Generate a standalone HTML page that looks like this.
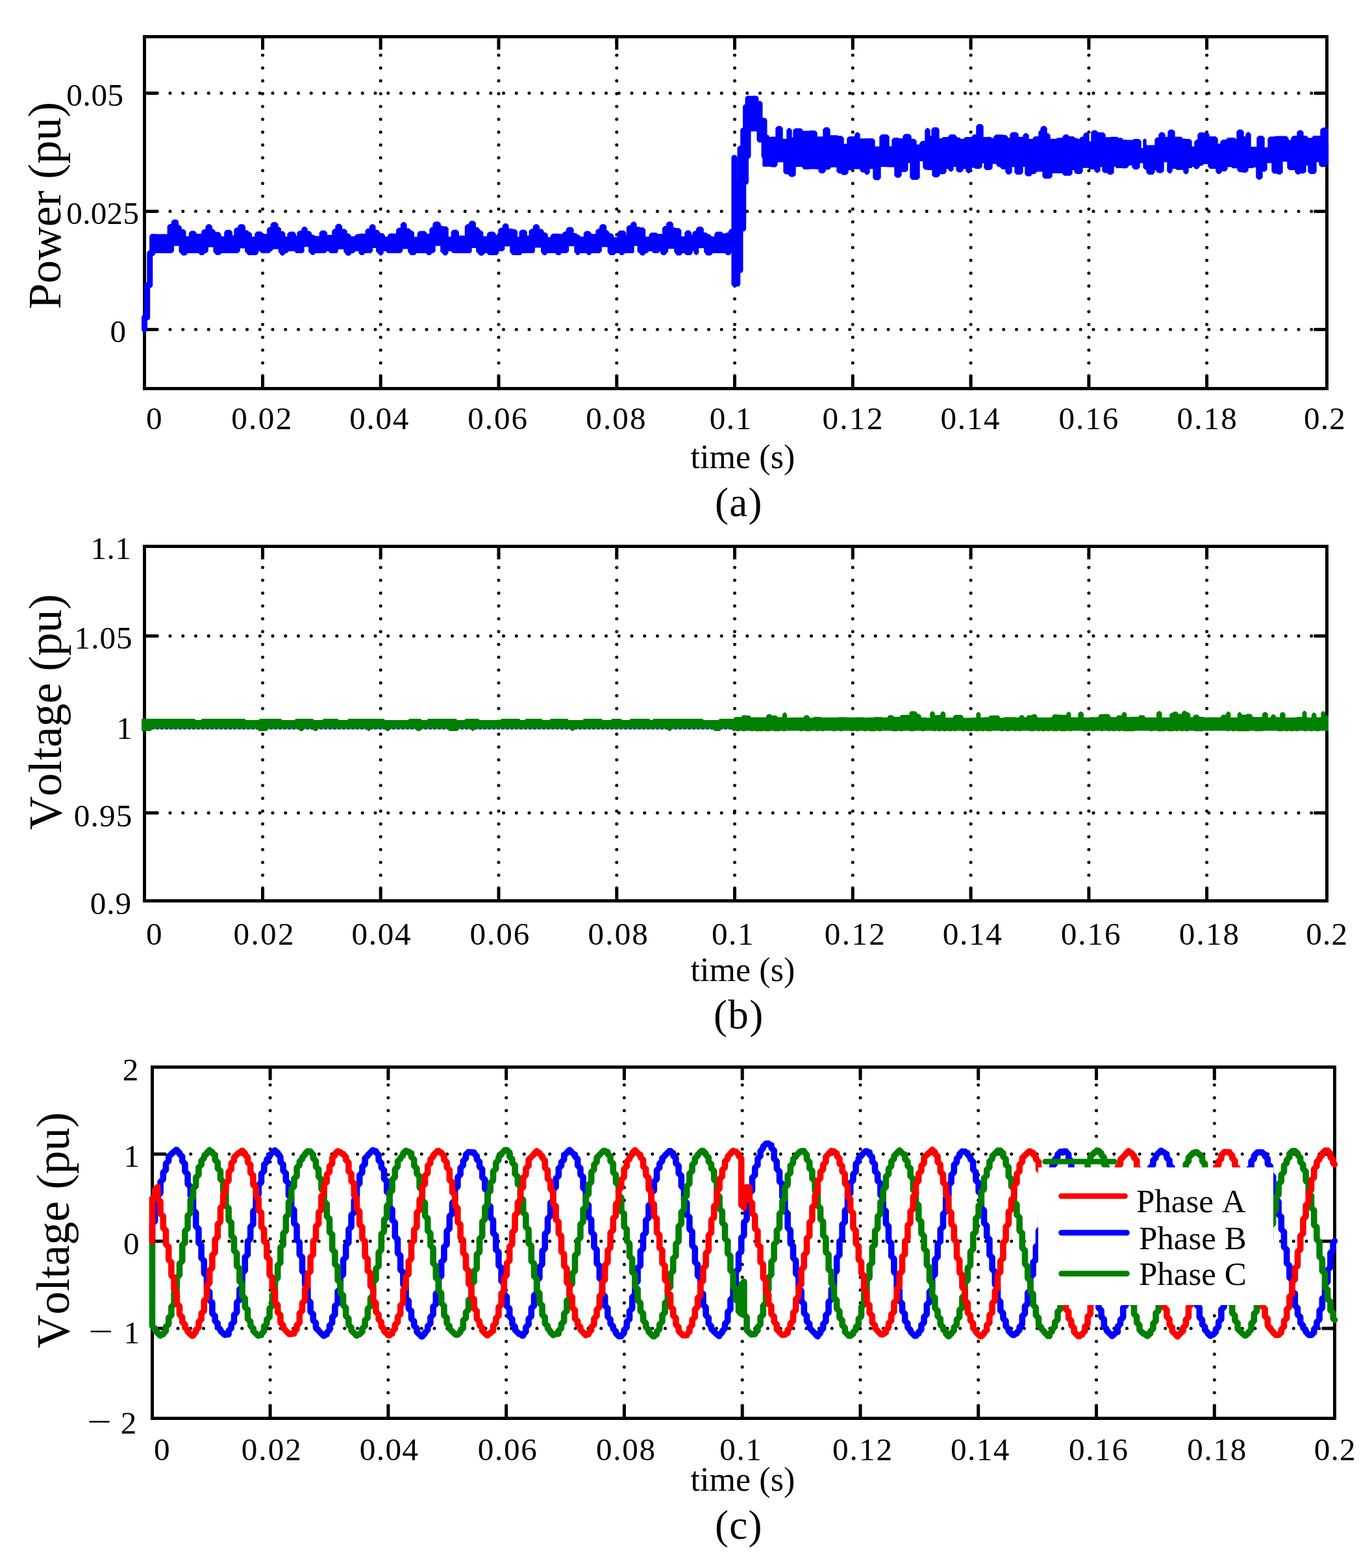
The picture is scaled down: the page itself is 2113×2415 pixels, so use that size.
<!DOCTYPE html>
<html><head><meta charset="utf-8"><title>Figure</title>
<style>
html,body{margin:0;padding:0;background:#fff}
svg{display:block}
text{font-family:"Liberation Serif", serif;fill:#000;font-kerning:none}
.grid{fill:none;stroke:#000;stroke-width:5;stroke-linecap:round;stroke-dasharray:0 19.75}
.tick{fill:none;stroke:#000;stroke-width:5}
.box{fill:none;stroke:#000;stroke-width:5}
.c{fill:none;stroke-width:9;stroke-linejoin:round;stroke-linecap:round}
.l{fill:none;stroke-width:8.6;stroke-linecap:round}
.s{fill:none;stroke-width:9.6;stroke-linejoin:round;stroke-linecap:round}
</style></head><body>
<svg width="2113" height="2415" viewBox="0 0 2113 2415">
<rect width="2113" height="2415" fill="#fff"/>
<g id="plot-a">
<path d="M404.5 598.5V56.5M586.2 598.5V56.5M768 598.5V56.5M949.8 598.5V56.5M1131.5 598.5V56.5M1313.3 598.5V56.5M1495.1 598.5V56.5M1676.9 598.5V56.5M1858.6 598.5V56.5" class="grid"/>
<path d="M222.5 143.5H2043.5M222.5 325.5H2043.5M222.5 507.5H2043.5" class="grid"/>
<path d="M404.5 598.5v-20M404.5 56.5v20M586.2 598.5v-20M586.2 56.5v20M768 598.5v-20M768 56.5v20M949.8 598.5v-20M949.8 56.5v20M1131.5 598.5v-20M1131.5 56.5v20M1313.3 598.5v-20M1313.3 56.5v20M1495.1 598.5v-20M1495.1 56.5v20M1676.9 598.5v-20M1676.9 56.5v20M1858.6 598.5v-20M1858.6 56.5v20M222.5 143.5h20M2043.5 143.5h-20M222.5 325.5h20M2043.5 325.5h-20M222.5 507.5h20M2043.5 507.5h-20" class="tick"/>
<rect x="222.5" y="56.5" width="1821" height="542" class="box"/>
<path d="M233 362.2H259.3V348.9L261.5 346.7H265.4V341.9L267.6 339.7H271.4L273.6 341.9V348.2H276L278.2 350.4V354.7H282.6L284.8 356.9V365.4H292.6V359.5L294.8 357.3H298.9L301 359.4V361.6H311.9V356.9L314.1 354.7H318.2V349.1L320.4 346.9H323.1L325.3 349.1V354.2H328L330.2 356.4V359H336.7L338.9 361.2V365.8H346.9V357.9L349.1 355.7H354.1L356.3 357.9V364.3H362V354.3L364.2 352.1H367.7V349.1L369.9 346.9H374.2L376.4 349.1V356.1H380.4L381.8 357.4V358.8H384.2L386.4 361V366.3H394V360.5L396.2 358.3H401.6L403.4 360.1V362H412.8V353.3L415 351.1H418.3V346L420.5 343.8H424.6L426.8 346V350.8H429.1L431.3 353V357.8H435.5L437.7 360V365.9H444.1V360.6L446.3 358.4H452L454.2 360.6V365H459V359.1L461.2 356.9H465.9V352.9L468.1 350.7H469.8L472 352.9V357.4H476.4L478.6 359.6V363.2H482.7L483.8 364.3V365.3H493.3V359L495.5 356.8H500.2L502.4 359V363.4H512.9V356.1L515.1 353.9H518V348.6L520.2 346.4H523.2L525.4 348.6V354.3H530.9L533.1 356.5V361.1H536.8L539 363.3V365.8H547.8V364L549.6 362.2H554V361.8L554.3 361.5H564.2V355.7L566.4 353.5H570.4V349.1L572.6 346.9H574.7L576.9 349.1V355.8H581.4L583.6 358V360.8H589L591.2 363V366.1H598.7V363.3L600.9 361.1H607.9L608.1 361.3V361.5H611.7V354.7L613.9 352.5H618.5V346L620.7 343.8H622.7L624.9 346V353.3H629.5L631.2 355V356.7H634.1L636.3 358.9V366.4H644.4V359.6L646.6 357.4H653.8L655.9 359.6V361.7H663V353.4L665.2 351.2H668.1V345.2L670.3 343H675L677.2 345.2V349.1H680.1L680.6 349.6V350.1H686.9L689.1 352.3V366.1H696.3V357.6L698.5 355.4H703L705.2 357.6V364.5H717.5V349.2L719.7 347H723.5V343.9L725.7 341.7H729L731.2 343.9V351.4H735.1L737.3 353.6V356.3H740.5L742.7 358.5V365.5H751.7V360.6L753.9 358.4H759.9L762.1 360.6V363.7H768.8V354.6L771 352.4H775.4V347.8L777.6 345.6H779.7L781.9 347.8V353.8H788.5L789 354.3V354.8H793.2L795.4 357V366.2H801.2V357.6L803.4 355.4H807.9L810.1 357.6V364.4H816.3V356.3L818.5 354.1H822.4V349.1L824.6 346.9H827.2L829.4 349.1V354.1H833.8L836 356.3V359.8H840L842.2 362V366.9H849.4V363.7L851.6 361.5H860.4L860.7 361.8V362H867.6V360.1L869.5 358.2H873.4V353.7L875.6 351.5H879.8L882 353.7V360.8H886.7L887.9 362V363.2H890.9L892.4 364.7V366.2H900.5V359.6L902.7 357.4H906.9L909.1 359.6V362H919V356.2L921.2 354H924.8V349.1L927 346.9H930.4L932.6 349.1V356.3H934.8L937 358.5V361H941.4L943.6 363.2V366.9H952.5V359L954.7 356.8H960.4L962.6 359V364.2H966.5V350.7L968.7 348.5H972.9V345.2L975.1 343H976.8L979 345.2V351H984.1L984.6 351.5V352H990.3L992.5 354.2V366.2H1001.1V362.2L1003.3 360H1010.4L1011.4 361V362H1021.6V352L1023.8 349.8H1027.5V345.2L1029.7 343H1033.1L1035.3 345.2V352H1038.6L1039.1 352.5V353H1045.5L1047.7 355.2V365.6H1056V358.6L1058.2 356.4H1061.1L1063.3 358.6V363.3H1067.9V359.5L1070.1 357.3H1073.7V352.9L1075.9 350.7H1080L1082.2 352.9V359.6H1086.8L1088 360.8V362.1H1092.1L1094 364V365.9H1102V360.7L1104.2 358.5H1110.6L1112 359.9V361.2H1118.5V360.6L1119.1 360H1123.5V356.4L1125.7 354.2H1132V380.2H1125V389.1L1122.8 391.3H1120.1L1118.6 389.8V388.3H1109.6H1103H1095.7V390L1093.9 391.8H1089.4L1087.6 390V388.3H1086.7L1085.7 387.3V380.5H1074.6V389.1L1072.4 391.3L1070.2 389.1V385.3H1065V389.1L1062.8 391.3H1057.5L1056 389.8V388.3H1049V390L1047.3 391.8H1043.5L1041.8 390V388.3H1040.8L1039.9 387.3V381.6H1027.5V387L1026.2 388.3H1024.9V389.8L1023.4 391.3H1020.8L1018.6 389.1V385.3H1014.3V386.8L1012.8 388.3H1007.2L1005.7 386.8V385.3H997.5V386.8L996 388.3H992.6V390L990.9 391.7H988.2L986.6 390V388.3H984.9L983.2 386.6V377H975V387.7L974.4 388.3H973.8H965.6H960.3V389.8L958.8 391.3H956.6L955.1 389.8V388.3H946.7V389.8L945.2 391.3H940.3L938.8 389.8V388.3H938.1L937.3 387.5V378.7H925.2V386.1L923 388.3H919.3H914H909.4V389.8L907.9 391.3H906.4L904.9 389.8V388.3H899.1H891.7V389.8L890.2 391.2H889.3L887.9 389.8V388.3H886.9L886 387.3V377.6H874.6V386.1L872.4 388.3H869.8H863V389.8L861.5 391.3H858.5L857 389.8V388.3H848.1H841.1V390L839.4 391.6H838L836.4 390V388.3H835.6L834.7 387.5V379.9H822.2V386.9L820.9 388.3H819.5H810.7H802.5V389.8L801 391.3H796L796 391.2V391.2H790.1L788.6 389.7V388.3H787.8L786.9 387.4V377.8H775.7V383.4L773.8 385.3H771.8H766.8V389.1L764.6 391.3H759.6H753.4L751.9 389.8V388.3H744.7V390.2L742.8 392.1H739.8L737.9 390.2V388.3H736.3L734.8 386.7V380.2H725V386.9L723.6 388.3H722.2H714.7H710.6H704.2H698.3L696.8 386.8V385.3H688.8V389.6L686.6 391.8H684.9L683.1 390V388.3H681.5L679.8 386.6V377.1H669V386.1L666.8 388.3H663.5V389.8L662 391.3H659.5L658 389.8V388.3H650.8H645.8H639.5V389.8L638 391.3H633.4L631.9 389.8V388.3H630.9L629.9 387.3V381.9H618.7V386.1L616.5 388.3H612H607H601.5H597.7L596.2 386.8V385.3H589.1V389.6L586.9 391.8H585.9L584.2 390.1V388.3H582.5L580.8 386.6V380.4H572.4V386.3L570.4 388.3H568.4H560.1V389.8L558.6 391.3H556.2L554 389.1V385.3H545.5V386.8L544 388.3H539.7V390.1L537.9 392H535L533.1 390.1V388.3H532L530.9 387.2V382.2H519.2V386.9L517.9 388.3H516.5H509.1L507.6 386.8V385.3H501.8V386.8L500.3 388.3H494.9H490H483.8V389.7L482.5 391H480.8L479.4 389.7V388.3H478.1L476.7 387V378.5H467V386.7L465.4 388.3H463.8H456.8L455.3 386.8V385.3H450.4H442.7V386.8L441.2 388.3H437.4V390.2L435.5 392.1H434.4L432.5 390.2V388.3H431.5L430.4 387.3V382H419.1V383.6L417.5 385.3H415.4V386.8L413.9 388.3H407.1H403.6L402.1 386.8V385.3H396.5V389.1L394.3 391.3H387.7H383.1L381.6 389.8V388.3H380.2L378.8 386.9V380.7H368.1V386.1L365.9 388.3H361.1H356.7H347.8H339.3V389.7L337.9 391H333.7L332.4 389.7V388.3H331.2L330.1 387.2V379.1H319.2V386.1L317 388.3H313.9V389.8L312.4 391.3H309.2L307.7 389.8V388.3H303.5H298.6H291.9H287.2V390L285.4 391.8H281.5L279.8 390V388.3H278.5L277.2 387V377.1H266.3V386.1L264.1 388.3H233Z" fill="#0000ff" stroke="#0000ff" stroke-width="3.4" stroke-linejoin="round"/>
<path d="M1176 212.8H1188V212.4L1188.3 212.1H1196V197.9L1198.2 195.7H1201.8L1204 197.9V215.4H1213V200.9L1215.2 198.7H1215.8L1218 200.9V213.1H1223V201.3L1225.2 199.1H1233L1235 201.1V203.1H1247V202.9L1247.2 202.6H1254.8L1257 204.8V212H1269V200L1271.2 197.8H1274.8L1277 200V210H1289.5L1290 210.5V211H1295.8L1298 213.2V223.2H1306V213.8L1308.2 211.6H1318V207.3L1320.2 205.1H1320.8L1323 207.3V214.9H1333V214.8L1333.1 214.7H1343.8L1346 216.9V227.2H1356V210.9L1358.2 208.7H1365.8L1368 210.9V227H1375V215.9L1377.2 213.7H1382.6L1383 214.1V214.6H1392V210.1L1394.2 207.9H1399.8L1402 210.1V215.5H1407.8L1410 217.7V224.2H1418V220.9L1420.2 218.7H1426V201L1428.2 198.8H1428.8L1431 201V210.9H1436V199.9L1438.2 197.7H1442.8L1445 199.9V214.6H1452V213.6L1453 212.7H1462V210.7L1464 208.7H1469.8L1472 210.9V213.3H1476.9L1478 214.4V215.4H1486V214.1L1487.3 212.8H1498V210.8L1500 208.8H1505V194.9L1507.2 192.7H1510.8L1513 194.9V212.8H1520V212.6L1520.2 212.5H1525.1L1526 213.3V214.2H1532V211.1L1534.2 208.9H1544.6L1545 209.3V209.7H1549L1551 211.7V213.7H1557V207.3L1559.2 205.1H1564.8L1567 207.3V212.5H1577V209L1579.2 206.8H1580.8L1583 209V215.8H1592V213.8L1594 211.7H1601V203.7L1602.5 202.2H1604V197.9L1606.2 195.7H1608.8L1611 197.9V206.6H1613.8L1616 208.8V215.4H1628V214.7L1628.7 214H1638V211L1640.2 208.8H1643.5L1645 210.3V211.7H1652.8L1654 213V214.2H1658.2L1659 215V215.8H1664V214.1L1665.7 212.3H1670V208L1672.2 205.8H1673.8L1676 208V219.2H1682V204.3L1684.2 202.1H1687.3L1689 203.8V205.5H1698.8L1701 207.7V213H1711V212.7L1711.2 212.5H1720.3L1721 213.2V214H1726.7L1728 215.3V216.6H1733.8L1734 216.9V217.1H1746V216.5L1746.6 215.8H1753.8L1756 218V229.7H1762V216.2L1763 215.2L1764 216.2V225.2H1780V215.3L1782.2 213.1H1786V207.4L1788.2 205.2H1790.8L1793 207.4V212.4H1800V203.4L1802.2 201.2H1805.8L1808 203.4V212.2H1818.5L1820 213.8V215.3H1824.8L1825 215.5V215.6H1831.8L1834 217.8V227.2H1841V218.8L1843.2 216.6H1846V207.6L1848.2 205.4H1850.9L1851 205.5V205.6H1858.8L1861 207.8V211.8H1871.8L1874 214V223H1881V219L1883.2 216.8H1890V215.2L1891.6 213.6H1900.8L1903 215.8V222.3H1906V203.4L1908.2 201.2H1911.8L1914 203.4V211.7H1920V207.2L1922.2 205H1922.8L1925 207.2V227.7H1937V212.8L1939.2 210.6H1943.8L1946 212.8V228.7H1954V214.1L1956.2 211.9H1964V211.6L1964.3 211.3H1976V211.2H1980.8L1983 213.4V217.2H1990V212.8L1992.2 210.6H1999V204.3L2001.2 202.1H2003.8L2006 204.3V210.8H2011.4L2013 212.3V213.9H2022V212.3L2023.6 210.8H2035V200.5L2037.2 198.3H2041.8L2044 200.5V219.3H2044.5V252H2041V253.8L2039.2 255.6H2035.2L2033 253.4V248H2026V264L2023.8 266.2H2018.2L2016 264V253.6H2010V263.4L2007.8 265.6H2001V266.3L2000.3 267.1H1998.2L1996 264.9V260.2H1986.2L1984 258V247.4H1974V264.8L1971.8 267H1968.6L1968 266.4V265.8H1962.2L1960 263.6V249.6H1950V260.5L1947.8 262.7H1943V272.9L1940.8 275.1H1938.2L1936 272.9V256.2H1929V256.7L1928.5 257.2H1921V262.2L1918.8 264.4H1914.4L1914 264V263.6H1909.2L1907 261.4V257.5H1899L1898 256.5V255.5H1889V260L1886.8 262.2H1880V264.3L1878 266.3H1876.2L1874 264.1V258.2H1864.2L1862 256V251.1H1852V252.5L1850.7 253.8H1846V256.5L1843.8 258.7H1841.7L1840 257.1V255.4H1835V256.3L1834.1 257.2H1829V264.7L1826.8 266.9H1826.2L1824 264.7V260.1H1812.9L1812 259.2V258.4H1804V263.3L1801.8 265.5H1801.2L1799 263.3V248.4H1791V262.7L1788.8 264.9H1784.2L1782 262.7V260.2H1777V265.1L1774.8 267.3H1769.2L1767 265.1V259.8H1764.2L1762 257.6V249.5H1754V257.1L1751.8 259.3H1747.2L1745 257.1V253.1H1737V255.4L1734.8 257.6H1729.2L1729 257.4V257.2H1720.1L1719 256.1V255H1714V265.2L1711.8 267.4H1708.2L1707 266.2V264.9H1701.2L1699 262.7V255.5H1693V262.4L1690.8 264.6H1689.2L1687 262.4V259.4H1679.1L1678 258.2V257.1H1666V264.1L1663.8 266.3H1658.2L1656 264.1V260.4H1650V266.8L1647.8 269H1639.8L1638 267.2V265.4H1626.1L1626 265.3V265.2H1619V271.4L1616.8 273.6H1609.2L1607 271.4V262.7H1595V264.5L1593.2 266.3H1588V268L1586.2 269.8H1582.2L1580 267.6V255.2H1574V265L1571.8 267.2H1566.2L1564 265V255.5H1557V264.8L1554.8 267H1552.2L1550 264.8V259H1543.7L1542 257.3V255.6H1538.2L1536 253.4V250.8H1527V258.2L1524.8 260.4H1519.2L1517 258.2V249.9H1511V256L1508.8 258.2H1502.7L1502 257.6V256.9H1495V262.8L1492.8 265H1491.2L1489 262.8V258.5H1482V261.6L1479.8 263.8H1476.2L1474 261.6V255.4H1467V260.7L1464.8 262.9H1464.2L1462 260.7V258.5H1456V264.3L1453.8 266.5H1446V269.4L1443.8 271.6H1439.2L1437 269.4V260.3H1429.3L1429 260V259.7H1425.2L1423 257.5V246.9H1415V273L1412.8 275.2H1405.2L1403 273V249.3H1397V261L1394.8 263.2H1387V269.8L1384.8 272H1381.2L1379 269.8V255.9H1369.1L1369 255.7V255.6H1363.1L1363 255.5V255.4H1355V273.6L1352.8 275.8H1348.2L1346 273.6V258.6H1338V265.3L1335.8 267.5H1334.7L1333 265.8V264.1H1328.2L1326 261.9V258.8H1314V259.7L1313.1 260.5H1305V265.6L1302.8 267.8H1298.1L1297 266.7V265.6H1292.2L1290 263.4V256H1278V258L1276.1 259.9H1270V263L1267.8 265.2H1264.2L1262 263V259.1H1257.2L1257 258.9V258.7H1245V259L1244.7 259.3H1238.9L1237 257.4V255.4H1232.1L1232 255.3V255.2H1224V268.7L1221.8 270.9H1218.1L1216 268.9V266.8H1210.2L1208 264.6V248.3H1196V253.5L1193.8 255.7H1188.4L1188 255.4V255H1176Z" fill="#0000ff" stroke="#0000ff" stroke-width="3.4" stroke-linejoin="round"/>
<path d="M222.5 507.5L222.5 489L226.7 489L226.7 439L230.8 439L230.8 390L234.6 390L234.6 365L238 365L238 385" class="c" stroke="#0000ff"/>
<path d="M1128 385L1130.9 385L1130.9 243L1130.9 437L1135.8 437L1135.8 283L1135.8 416L1140 416L1140 229L1140 352L1144.7 352L1144.7 201L1144.7 280L1148.5 280L1148.5 165L1148.5 240L1152 240L1152 152L1156 152L1156 198L1160 198L1160 152L1164 152L1164 198L1167 198L1167 160L1170 160L1170 215L1174 215L1174 186L1177 186L1177 240L1181 240L1181 212" class="c" stroke="#0000ff"/>
<text x="102.33" y="162.60" font-size="49.2" letter-spacing="0.60">0.05</text>
<text x="102.33" y="344.60" font-size="49.2" letter-spacing="0.27">0.025</text>
<text x="169.43" y="526.80" font-size="49.2">0</text>
<text x="225.03" y="661.30" font-size="49.2">0</text>
<text x="356.13" y="661.30" font-size="49.2" letter-spacing="2.36">0.02</text>
<text x="538.18" y="661.30" font-size="49.2" letter-spacing="1.71">0.04</text>
<text x="720.23" y="661.30" font-size="49.2" letter-spacing="1.95">0.06</text>
<text x="902.28" y="661.30" font-size="49.2" letter-spacing="2.08">0.08</text>
<text x="1092.63" y="661.30" font-size="49.2" letter-spacing="1.60">0.1</text>
<text x="1266.38" y="661.30" font-size="49.2" letter-spacing="2.36">0.12</text>
<text x="1448.43" y="661.30" font-size="49.2" letter-spacing="1.71">0.14</text>
<text x="1630.48" y="661.30" font-size="49.2" letter-spacing="1.95">0.16</text>
<text x="1812.53" y="661.30" font-size="49.2" letter-spacing="2.08">0.18</text>
<text x="2008.03" y="661.30" font-size="49.2" letter-spacing="1.19">0.2</text>
<text x="1063.49" y="721.40" font-size="52" letter-spacing="0.07">time (s)</text>
<text x="1101.03" y="795.00" font-size="63" letter-spacing="1.31">(a)</text>
<text transform="translate(93.40 476.26) rotate(-90)" font-size="71.5" letter-spacing="-0.05">Power (pu)</text>
</g>
<g id="plot-b">
<path d="M404.5 1387.5V841.5M586.2 1387.5V841.5M768 1387.5V841.5M949.8 1387.5V841.5M1131.5 1387.5V841.5M1313.3 1387.5V841.5M1495.1 1387.5V841.5M1676.9 1387.5V841.5M1858.6 1387.5V841.5" class="grid"/>
<path d="M222.5 979.5H2043.5M222.5 1116H2043.5M222.5 1252H2043.5" class="grid"/>
<path d="M404.5 1387.5v-20M404.5 841.5v20M586.2 1387.5v-20M586.2 841.5v20M768 1387.5v-20M768 841.5v20M949.8 1387.5v-20M949.8 841.5v20M1131.5 1387.5v-20M1131.5 841.5v20M1313.3 1387.5v-20M1313.3 841.5v20M1495.1 1387.5v-20M1495.1 841.5v20M1676.9 1387.5v-20M1676.9 841.5v20M1858.6 1387.5v-20M1858.6 841.5v20M222.5 979.5h20M2043.5 979.5h-20M222.5 1116h20M2043.5 1116h-20M222.5 1252h20M2043.5 1252h-20" class="tick"/>
<rect x="222.5" y="841.5" width="1821" height="546" class="box"/>
<path d="M226 1122.6H1131" stroke="#0000ff" stroke-width="1.6" stroke-dasharray="5 2" fill="none"/>
<path d="M219 1108H243.3H272.1H299.3L300.3 1109V1110H310.5V1109L311.5 1108H332.7H343.2H356.7H376.3L377.3 1109V1110H384.7H399.7V1109L400.7 1108H411.3H422.3H432.1L433.1 1109V1110H447.7H455.1V1109L456.1 1108H481.2L482.2 1109V1110H497.8V1109L498.8 1108H519.7L520.7 1109V1110H536.1V1109L537.1 1108H565.4H579.9H590.6L591.6 1109V1110H597.3H608.9H621.4H629.8V1109L630.8 1108H647.4L648.4 1109V1110H658.7V1109L659.7 1108H667.9H676.4H702L703 1109V1110H716.7V1109L717.7 1108H736.4L737.4 1109V1110H742.9H758.4H771.7V1109L772.7 1108H799.5L800.5 1109V1110H809.4V1109L810.4 1108H833.4L834.4 1109V1110H847.7V1109L848.7 1108H873.6L874.6 1109V1110H890H898.7V1109L899.7 1108H925.9L926.9 1109V1110H942.1V1109L943.1 1108H956L957 1109V1110H963.9H970.6V1109L971.6 1108H999.5L1000.5 1109V1110H1006V1109L1007 1108H1025.8H1039H1065.2H1081.4L1082.4 1109V1110H1097.5H1107.9V1109L1108.9 1108H1118.8H1131V1106.6L1132.4 1105.2H1143.1V1103.9L1144.4 1102.6H1148.5L1148.7 1102.8V1103H1154.2L1155.5 1104.3V1105.7H1169.3H1180.9V1103.1L1183.1 1100.9H1186.4L1187.5 1101.9V1102.9H1195.1L1196.4 1104.2V1105.5H1205.9V1100.4L1208.1 1098.2H1208.9L1211.1 1100.4V1106.2H1219.3V1106.1L1219.4 1106H1230.6V1106.1H1238.9V1104.2L1240.7 1102.4H1243.8L1245.8 1104.4V1106.4H1253.5V1105.7L1254.2 1105H1263.2L1263.7 1105.5V1106H1270.9H1283.3H1291.4V1105.7L1291.6 1105.5H1303.6L1303.9 1105.8V1106H1316.7V1105.9L1316.8 1105.8H1330.1L1330.3 1106V1106.3H1336.8V1106.1L1336.9 1106H1346.1V1105.6L1346.5 1105.3H1357.3L1357.7 1105.6V1106H1367.9V1104.2L1369.7 1102.4H1374.1L1375.4 1103.7V1105H1386.9V1103.6L1388.3 1102.1H1393.6H1401.4V1098.5L1403.6 1096.3H1406.9L1407.1 1096.5V1096.6H1409.9L1411.9 1098.6V1100.6H1415.5L1417.7 1102.8V1105.9H1425.9L1426.1 1106.1V1106.4H1433.2V1098.7L1435.4 1096.5H1436.6L1438.8 1098.7V1102.6H1444.2V1102.3L1444.5 1102H1449.4V1098.9L1451.6 1096.7H1453L1455.2 1098.9V1106.2H1468.8V1104.2L1470.9 1102.1H1477.1V1102L1477.2 1102H1480.5L1482.7 1104.2V1106.5H1496.3V1106.4L1496.3 1106.3H1504.4V1099.7L1506.6 1097.5H1507L1509.2 1099.7V1105.9H1515.5V1105.8L1515.6 1105.6H1523.9V1104.3L1525.2 1102.9H1530V1102.9L1530.1 1102.8H1537L1538.9 1104.6V1106.5H1546.2V1106L1546.7 1105.5H1554.9H1564.1L1564.4 1105.7V1105.9H1570.5V1104.2L1572.2 1102.5H1575L1576.6 1104.1V1105.8H1581.8V1104.1L1583.4 1102.5H1590.5V1101.7L1591.3 1100.9H1594.4L1596.6 1103.1V1105.9H1604.2H1614.9L1615 1106V1106.1H1621.1V1103.5L1623.3 1101.3H1628.1L1628.2 1101.5V1101.7H1635.2L1635.3 1101.8V1102H1643.3V1099.3L1645.5 1097.1H1646.2L1648.4 1099.3V1105.8H1661.4V1099.2L1663.6 1097H1665.7L1667.9 1099.2V1105.9H1679.3V1105.8L1679.4 1105.6H1692.5V1103.2L1694.7 1101H1700.9V1100.8L1701 1100.7H1707L1709.2 1102.9V1105.6H1720.4V1104.2L1721.9 1102.8H1728.6V1099.6L1730.8 1097.4H1732.1L1734.3 1099.6V1105.2H1742.2V1105.2L1742.3 1105.1H1754.5V1103.8L1755.9 1102.5H1761L1762.8 1104.3V1106.1H1768H1782V1098.5L1784.2 1096.3H1786.4L1788.6 1098.5V1106.1H1802.2V1100.9L1804.4 1098.7H1807.4V1097.8L1808.3 1096.9H1811.6L1813.5 1098.8V1100.6H1821V1098L1823.2 1095.8H1825.2L1826.4 1096.9V1098.1H1830.1L1832.3 1100.3V1105.6H1838.6V1103.7L1840.5 1101.7H1844.3L1846 1103.4V1105.1H1853.9L1854.3 1105.5V1105.9H1860.7V1105.9L1860.7 1105.8H1873.9H1881.2V1103.8L1883.3 1101.8H1889.2V1099L1891.4 1096.8H1892.1L1894.3 1099V1106.1H1900.9V1106H1906.7V1099.8L1908.9 1097.6H1909.5L1911.5 1099.6V1101.7H1920V1101.1L1920.6 1100.6H1926L1928.2 1102.8V1105.2H1933.6L1933.7 1105.3V1105.3H1944.8V1100L1947 1097.8H1949.6L1951.8 1100V1105.9H1958V1103.5L1960.2 1101.3H1961.8L1964 1103.5V1105.6H1972.1V1100L1974.3 1097.8H1976.5L1978.7 1100V1106.3H1987.6V1106.1L1987.8 1105.9H1997.9V1105.5L1998.3 1105.1H2006.5V1097.8L2008.7 1095.6H2009.3L2011.5 1097.8V1106.1H2020.8V1100.8L2023 1098.6H2024.3L2026.5 1100.8V1105.7H2035.3V1098.3L2037.5 1096.1H2038L2040.2 1098.3V1102.7H2045V1125.3H2044.8L2044.6 1125.1V1124.6H2040.2H2036.1H2031.9V1124.9L2031.5 1125.3H2028.6H2025.9L2025.6 1124.9V1124.6H2021.2V1124.9L2020.9 1125.3H2017.7L2017.3 1124.9V1124.6H2013.2V1124.9L2012.9 1125.3H2008.8L2008.4 1124.9V1124.6H2004.2H1999.4V1124.9L1999 1125.3H1995.3L1995 1124.9V1124.6H1991.6V1124.9L1991.3 1125.3H1987.7L1987.4 1124.9V1124.6H1983.9V1124.9L1983.5 1125.3H1979.8L1979.4 1124.9V1124.6H1975.4V1124.9L1975.1 1125.3H1971.9H1968.5L1968.2 1124.9V1124.6H1964.9H1961.8H1957.7H1953.7H1949.8H1945.1V1124.9L1944.8 1125.3H1940.5H1937.3H1933.2L1932.8 1124.9V1124.6H1928.5H1923.8V1124.9L1923.5 1125.3H1918.9H1914.4H1910.3H1905.8L1905.4 1124.9V1124.6H1901.5V1124.9L1901.2 1125.3H1897.8L1897.4 1124.9V1124.6H1892.7V1124.9L1892.3 1125.3H1889.9L1889.6 1124.9V1124.6H1885H1880.4H1876.6H1873.5H1870.1H1865.6H1862.1H1857.1H1852.2V1124.9L1851.9 1125.3H1848.1H1844.5H1840.6L1840.2 1124.9V1124.6H1836.7H1833.4H1829.7V1124.9L1829.3 1125.3H1825.5L1825.2 1124.9V1124.6H1822V1124.9L1821.7 1125.3H1819.3L1819 1124.9V1124.6H1814.1V1124.9L1813.7 1125.3H1811.3L1810.9 1124.9V1124.6H1807.7V1124.9L1807.3 1125.3H1802.8H1798.8L1798.5 1124.9V1124.6H1793.7V1124.9L1793.3 1125.3H1790.6H1787.5H1783.3L1782.9 1124.9V1124.6H1778.6H1774.9V1124.9L1774.5 1125.3H1771.7L1771.3 1124.9V1124.6H1767.5H1762.5H1758.7H1755.1H1750.3H1747.3V1124.9L1746.9 1125.3H1742.4H1737.8H1733.3H1730.2L1729.9 1124.9V1124.6H1725.1V1124.9L1724.8 1125.3H1722.2L1721.8 1124.9V1124.6H1717.8V1124.9L1717.4 1125.3H1713.2L1712.9 1124.9V1124.6H1709.9V1124.9L1709.5 1125.3H1706.8L1706.5 1124.9V1124.6H1703.4H1698.5V1124.9L1698.1 1125.3H1695.8L1695.4 1124.9V1124.6H1691.7H1688.7H1685.4V1124.9L1685.1 1125.3H1682.6L1682.2 1124.9V1124.6H1677.5V1124.9L1677.2 1125.3H1672.6H1668.8L1668.4 1124.9V1124.6H1665.2H1661.6H1658.2H1654.1H1650.3V1124.9L1650 1125.3H1646.5L1646.2 1124.9V1124.6H1641.9V1124.9L1641.5 1125.3H1638.6H1634.1L1633.8 1124.9V1124.6H1628.8V1124.9L1628.4 1125.3H1625.7H1622.1L1621.8 1124.9V1124.6H1616.9V1124.9L1616.5 1125.3H1613.2L1612.9 1124.9V1124.6H1609.6V1124.9L1609.3 1125.3H1605L1604.6 1124.9V1124.6H1600.9V1124.9L1600.5 1125.3H1597.8L1597.4 1124.9V1124.6H1592.6V1124.9L1592.3 1125.3H1588.9H1585.8L1585.5 1124.9V1124.6H1581.8H1577.3H1572.9V1124.9L1572.5 1125.3H1569.1L1568.7 1124.9V1124.6H1565.4V1124.9L1565 1125.3H1562.5L1562.2 1124.9V1124.6H1558.8H1554.1V1124.9L1553.8 1125.3H1549.7L1549.3 1124.9V1124.6H1545V1124.9L1544.7 1125.3H1541.7L1541.4 1124.9V1124.6H1536.7H1531.8H1527.4V1124.9L1527 1125.3H1523.2H1519.7L1519.3 1124.9V1124.6H1515.2V1124.9L1514.8 1125.3H1512.2L1511.9 1124.9V1124.6H1508.5V1124.9L1508.2 1125.3H1505.3H1502.1L1501.7 1124.9V1124.6H1497.8V1124.9L1497.4 1125.3H1493.9H1490L1489.6 1124.9V1124.6H1485.1V1124.9L1484.7 1125.3H1482.3L1481.9 1124.9V1124.6H1477.1H1472.5V1124.9L1472.2 1125.3H1469.5L1469.1 1124.9V1124.6H1465.6V1124.9L1465.3 1125.3H1461.3L1460.9 1124.9V1124.6H1457.2V1124.9L1456.8 1125.3H1452.7L1452.3 1124.9V1124.6H1449V1124.9L1448.6 1125.3H1445L1444.6 1124.9V1124.6H1440.9V1124.9L1440.5 1125.3H1437.5L1437.2 1124.9V1124.6H1432.4H1428.4H1423.6V1124.9L1423.3 1125.3H1419.6L1419.3 1124.9V1124.6H1416.1H1412.6H1409V1124.9L1408.6 1125.3H1404.8H1402L1401.7 1124.9V1124.6H1398.1H1393.8H1390V1124.9L1389.7 1125.3H1386.3L1386 1124.9V1124.6H1382.1V1124.9L1381.7 1125.3H1378.1H1374.2L1373.8 1124.9V1124.6H1370.2H1365.6H1361.6H1357.2V1124.9L1356.8 1125.3H1352.9L1352.6 1124.9V1124.6H1347.9V1124.9L1347.5 1125.3H1343.9H1339.7L1339.3 1124.9V1124.6H1334.5V1124.9L1334.2 1125.3H1330.4L1330 1124.9V1124.6H1326.7H1322.9V1124.9L1322.6 1125.3H1318.6L1318.2 1124.9V1124.6H1314.5V1124.9L1314.2 1125.3H1310.7L1310.3 1124.9V1124.6H1305.7H1301.9H1297.4V1124.9L1297.1 1125.3H1294.2L1293.8 1124.9V1124.6H1290.4H1286.6V1124.9L1286.3 1125.3H1283L1282.7 1124.9V1124.6H1277.8H1272.9H1268.5V1124.9L1268.2 1125.3H1265.6L1265.3 1124.9V1124.6H1261.1V1124.9L1260.7 1125.3H1257.4L1257 1124.9V1124.6H1253.1H1248.9V1124.9L1248.6 1125.3H1244.1H1240.8L1240.4 1124.9V1124.6H1235.8V1124.9L1235.5 1125.3H1232.3L1231.9 1124.9V1124.6H1227.7H1224.1H1219.7H1216.4H1212.7H1209.5V1124.9L1209.1 1125.3H1206.3L1206 1124.9V1124.6H1201.1V1124.9L1200.7 1125.3H1197.2H1192.6L1192.3 1124.9V1124.6H1189.2H1186.2V1124.9L1185.8 1125.3H1181.8H1178.9L1178.5 1124.9V1124.6H1175.4V1124.9L1175.1 1125.3H1171.3H1167.7H1163.6L1163.3 1124.9V1124.6H1160V1124.9L1159.7 1125.3H1156.2L1155.9 1124.9V1124.6H1151.1H1147.3V1124.9L1147 1125.3H1143.8L1143.5 1124.9V1124.6H1138.7V1124.9L1138.3 1125.3H1134.4L1134.1 1124.9V1124.6H1131V1124.8L1130.8 1125H1129.6L1128.2 1123.6V1121.6H1109.6V1123.3L1107.9 1125H1104.4H1101.3L1099.6 1123.3V1121.6H1085.1H1046.4H1033.3V1123.3L1031.6 1125H1030.7L1029 1123.3V1121.6H990.1H969.3H933.9H910.7H883.7V1123.3L882 1125H881.3L879.6 1123.3V1121.6H839.6H797.4H783.6H770.7H746.6H730.3V1123.3L728.6 1125H727.9L726.2 1123.3V1121.6H705.5V1123.3L703.8 1125H700.7H695.5H692.5L690.8 1123.3V1121.6H648V1123.3L646.3 1125H643L641.3 1123.3V1121.6H628.1H599.9V1123.3L598.2 1125H596L594.3 1123.3V1121.6H569.9V1123.3L568.2 1125H567.4L565.7 1123.3V1121.6H521.6H489V1123.3L487.3 1125H484.7L483 1123.3V1121.6H467.2V1123.3L465.5 1125H462.7L461 1123.3V1121.6H434.7H411.9V1123.3L410.2 1125H406.7H402H399.1L397.4 1123.3V1121.6H361.9H341.7H327.6H301.1H267H244.1H233V1123.3L231.3 1125H228.2H223.8H219Z" fill="#008000" stroke="#008000" stroke-width="2" stroke-linejoin="round"/>
<text x="139.48" y="860.70" font-size="49.2" letter-spacing="0.50">1.1</text>
<text x="114.58" y="999.40" font-size="49.2" letter-spacing="0.98">1.05</text>
<text x="179.18" y="1138.20" font-size="49.2">1</text>
<text x="113.63" y="1273.40" font-size="49.2" letter-spacing="1.20">0.95</text>
<text x="138.73" y="1408.20" font-size="49.2" letter-spacing="0.90">0.9</text>
<text x="225.03" y="1454.80" font-size="49.2">0</text>
<text x="359.43" y="1454.80" font-size="49.2" letter-spacing="2.36">0.02</text>
<text x="541.48" y="1454.80" font-size="49.2" letter-spacing="1.71">0.04</text>
<text x="723.53" y="1454.80" font-size="49.2" letter-spacing="1.95">0.06</text>
<text x="905.58" y="1454.80" font-size="49.2" letter-spacing="2.08">0.08</text>
<text x="1095.93" y="1454.80" font-size="49.2" letter-spacing="1.60">0.1</text>
<text x="1269.68" y="1454.80" font-size="49.2" letter-spacing="2.36">0.12</text>
<text x="1451.73" y="1454.80" font-size="49.2" letter-spacing="1.71">0.14</text>
<text x="1633.78" y="1454.80" font-size="49.2" letter-spacing="1.95">0.16</text>
<text x="1815.83" y="1454.80" font-size="49.2" letter-spacing="2.08">0.18</text>
<text x="2011.33" y="1454.80" font-size="49.2" letter-spacing="1.19">0.2</text>
<text x="1063.49" y="1511.40" font-size="52" letter-spacing="0.07">time (s)</text>
<text x="1099.03" y="1584.20" font-size="63" letter-spacing="1.34">(b)</text>
<text transform="translate(93.60 1278.00) rotate(-90)" font-size="71.5" letter-spacing="-0.02">Voltage (pu)</text>
</g>
<g id="plot-c">
<path d="M416.1 2184.5V1643.5M597.9 2184.5V1643.5M779.7 2184.5V1643.5M961.4 2184.5V1643.5M1143.2 2184.5V1643.5M1325 2184.5V1643.5M1506.7 2184.5V1643.5M1688.5 2184.5V1643.5M1870.3 2184.5V1643.5" class="grid"/>
<path d="M234.5 1777.5H2055.5M234.5 1911.8H2055.5M234.5 2046H2055.5" class="grid"/>
<path d="M416.1 2184.5v-20M416.1 1643.5v20M597.9 2184.5v-20M597.9 1643.5v20M779.7 2184.5v-20M779.7 1643.5v20M961.4 2184.5v-20M961.4 1643.5v20M1143.2 2184.5v-20M1143.2 1643.5v20M1325 2184.5v-20M1325 1643.5v20M1506.7 2184.5v-20M1506.7 1643.5v20M1688.5 2184.5v-20M1688.5 1643.5v20M1870.3 2184.5v-20M1870.3 1643.5v20M234.5 1777.5h20M2055.5 1777.5h-20M234.5 1911.8h20M2055.5 1911.8h-20M234.5 2046h20M2055.5 2046h-20" class="tick"/>
<rect x="234.5" y="1643.5" width="1821" height="541" class="box"/>
<path d="M234.5 1911.8L234.5 1884.7L238.7 1880.5L238.7 1861.1L242.9 1856.9L242.9 1841.7L247.1 1837.5L247.1 1820.3L251.3 1816.1L251.3 1805.8L255.5 1801.6L255.5 1792.2L259.7 1788L259.7 1781.7L263.9 1777.5L267.4 1774.1L268.1 1774.1L271.1 1771.1L272.3 1771.1L272.3 1771.5L276.5 1775.7L276.5 1777.2L280.7 1781.4L280.7 1788.3L284.9 1792.5L284.9 1804.2L289.1 1808.4L289.1 1823.5L293.3 1827.7L293.3 1841L297.5 1845.2L297.5 1863.6L301.7 1867.8L301.7 1888.7L305.9 1892.9L305.9 1914.2L310.1 1918.4L310.1 1937.7L314.3 1941.9L314.3 1961.1L318.5 1965.3L318.5 1985.9L322.7 1990.1L322.7 2002.3L326.9 2006.5L326.9 2022.8L331.1 2027L331.1 2034.3L335.3 2038.5L335.3 2043.7L339.5 2047.9L339.5 2049.5L343.7 2053.7L346 2055.9L347.9 2055.9L348.7 2055.1L352.1 2055.1L352.1 2049.6L356.3 2045.4L356.3 2040L360.5 2035.8L360.5 2025.3L364.7 2021.1L364.7 2006.1L368.9 2001.9L368.9 1985.8L373.1 1981.6L373.1 1960.8L377.3 1956.6L377.3 1936.4L381.5 1932.2L381.5 1912L385.7 1907.8L385.7 1889.9L389.9 1885.7L389.9 1865.7L394.1 1861.5L394.1 1843.6L398.3 1839.4L398.3 1825.2L402.5 1821L402.5 1807.9L406.7 1803.7L406.7 1793.8L410.9 1789.6L410.9 1785.9L415.1 1781.7L415.1 1779.6L419.3 1775.4L422.9 1771.8L423.5 1771.8L427.2 1775.5L427.7 1775.5L427.7 1777.6L431.9 1781.8L431.9 1789.5L436.1 1793.7L436.1 1802.9L440.3 1807.1L440.3 1818.4L444.5 1822.6L444.5 1841L448.7 1845.2L448.7 1859.5L452.9 1863.7L452.9 1884L457.1 1888.2L457.1 1909.5L461.3 1913.7L461.3 1932.1L465.5 1936.3L465.5 1957.7L469.7 1961.9L469.7 1978.7L473.9 1982.9L473.9 2001.8L478.1 2006L478.1 2019.9L482.3 2024.1L482.3 2033.5L486.5 2037.7L486.5 2045.3L490.7 2049.5L490.7 2049.6L494.9 2053.8L498.6 2057.5L499.1 2057.5L501.7 2055L503.3 2055L503.3 2052.6L507.5 2048.4L507.5 2041.6L511.7 2037.4L511.7 2028.7L515.9 2024.5L515.9 2011.4L520.1 2007.2L520.1 1989L524.3 1984.8L524.3 1967L528.5 1962.8L528.5 1940.3L532.7 1936.1L532.7 1917.9L536.9 1913.7L536.9 1893.6L541.1 1889.4L541.1 1871.6L545.3 1867.4L545.3 1849L549.5 1844.8L549.5 1826.9L553.7 1822.7L553.7 1810.1L557.9 1805.9L557.9 1797.1L562.1 1792.9L562.1 1784.1L566.3 1779.9L566.3 1779.3L570.5 1775.1L574.1 1771.5L574.7 1771.5L576.2 1773L578.9 1773L578.9 1774.5L583.1 1778.7L583.1 1787.1L587.3 1791.3L587.3 1798.1L591.5 1802.3L591.5 1815.3L595.7 1819.5L595.7 1835.4L599.9 1839.6L599.9 1858.9L604.1 1863.1L604.1 1878.9L608.3 1883.1L608.3 1904.4L612.5 1908.6L612.5 1929.8L616.7 1934L616.7 1955.5L620.9 1959.7L620.9 1978.3L625.1 1982.5L625.1 1999.5L629.3 2003.7L629.3 2015.3L633.5 2019.5L633.5 2030.9L637.7 2035.1L637.7 2041.9L641.9 2046.1L641.9 2051.1L646.1 2055.3L649.3 2058.5L650.3 2058.5L650.3 2058L654.5 2053.8L654.5 2052.3L658.7 2048.1L658.7 2042.6L662.9 2038.4L662.9 2028.8L667.1 2024.6L667.1 2012.6L671.3 2008.4L671.3 1992.9L675.5 1988.7L675.5 1969.1L679.7 1964.9L679.7 1944L683.9 1939.8L683.9 1920.7L688.1 1916.5L688.1 1896.2L692.3 1892L692.3 1873.5L696.5 1869.3L696.5 1852.8L700.7 1848.6L700.7 1831.5L704.9 1827.3L704.9 1813.1L709.1 1808.9L709.1 1798.9L713.3 1794.7L713.3 1788.1L717.5 1783.9L717.5 1778.4L721.7 1774.2L722 1774.5L725.9 1774.5L726.5 1775.1L730.1 1775.1L730.1 1776.5L734.3 1780.7L734.3 1785.4L738.5 1789.6L738.5 1796.8L742.7 1801L742.7 1813L746.9 1817.2L746.9 1831L751.1 1835.2L751.1 1854.4L755.3 1858.6L755.3 1875.1L759.5 1879.3L759.5 1899L763.7 1903.2L763.7 1924.4L767.9 1928.6L767.9 1948.8L772.1 1953L772.1 1972.9L776.3 1977.1L776.3 1993.1L780.5 1997.3L780.5 2011.5L784.7 2015.7L784.7 2027.7L788.9 2031.9L788.9 2039.3L793.1 2043.5L793.1 2048.2L797.3 2052.4L799.5 2054.6L801.5 2054.6L804.1 2057.2L805.7 2057.2L805.7 2055.3L809.9 2051.1L809.9 2044.1L814.1 2039.9L814.1 2031.3L818.3 2027.1L818.3 2015L822.5 2010.8L822.5 1995.4L826.7 1991.2L826.7 1972.3L830.9 1968.1L830.9 1951.3L835.1 1947.1L835.1 1927L839.3 1922.8L839.3 1900.4L843.5 1896.2L843.5 1876.8L847.7 1872.6L847.7 1852.8L851.9 1848.6L851.9 1832.2L856.1 1828L856.1 1815.1L860.3 1810.9L860.3 1799.6L864.5 1795.4L864.5 1790.2L868.7 1786L868.7 1779.7L872.9 1775.5L872.9 1775.4L877.1 1771.2L881.2 1775.4L881.3 1775.4L884.2 1778.2L885.5 1778.2L885.5 1781.1L889.7 1785.3L889.7 1795.1L893.9 1799.3L893.9 1808.8L898.1 1813L898.1 1829.5L902.3 1833.7L902.3 1852.3L906.5 1856.5L906.5 1874.6L910.7 1878.8L910.7 1897.7L914.9 1901.9L914.9 1920.7L919.1 1924.9L919.1 1945.8L923.3 1950L923.3 1968.6L927.5 1972.8L927.5 1992.7L931.7 1996.9L931.7 2010.9L935.9 2015.1L935.9 2027.9L940.1 2032.1L940.1 2038.6L944.3 2042.8L944.3 2046.7L948.5 2050.9L948.5 2053.3L952.7 2057.5L953.3 2058.1L956.9 2058.1L956.9 2057.3L961.1 2053.1L961.1 2048.5L965.3 2044.3L965.3 2035.9L969.5 2031.7L969.5 2019.4L973.7 2015.2L973.7 1998.1L977.9 1993.9L977.9 1977.5L982.1 1973.3L982.1 1953.2L986.3 1949L986.3 1927.1L990.5 1922.9L990.5 1902.5L994.7 1898.3L994.7 1879.7L998.9 1875.5L998.9 1856.9L1003.1 1852.7L1003.1 1837.7L1007.3 1833.5L1007.3 1820.2L1011.5 1816L1011.5 1802.5L1015.7 1798.3L1015.7 1792.3L1019.9 1788.1L1019.9 1784L1024.1 1779.8L1024.1 1779.5L1028.3 1775.3L1030.9 1772.7L1032.5 1772.7L1035.8 1776L1036.7 1776L1036.7 1779.8L1040.9 1784L1040.9 1791.5L1045.1 1795.7L1045.1 1806.8L1049.3 1811L1049.3 1826.7L1053.5 1830.9L1053.5 1848.5L1057.7 1852.7L1057.7 1870.8L1061.9 1875L1061.9 1893L1066.1 1897.2L1066.1 1918.3L1070.3 1922.5L1070.3 1943.7L1074.5 1947.9L1074.5 1964.6L1078.7 1968.8L1078.7 1989L1082.9 1993.2L1082.9 2009.6L1087.1 2013.8L1087.1 2025.6L1091.3 2029.8L1091.3 2038.6L1095.5 2042.8L1095.5 2046.6L1099.7 2050.8L1103.4 2054.6L1103.9 2054.6L1106.9 2057.6L1108.1 2057.6L1108.1 2056.2L1112.3 2052L1112.3 2050.1L1116.5 2045.9L1116.5 2038.8L1120.7 2034.6L1120.7 2020.8L1124.9 2016.6L1124.9 2002.1L1129.1 1997.9L1129.1 1982.8L1133.3 1978.6L1133.3 1958.5L1137.5 1954.3L1137.5 1931.7L1141.7 1927.5L1141.7 1906.7L1145.9 1902.5L1145.9 1882.3L1150.1 1878.1L1150.1 1861.1L1154.3 1856.9L1154.3 1837.7L1158.5 1833.5L1158.5 1814L1162.7 1809.8L1162.7 1798.6L1166.9 1794.4L1166.9 1784.6L1171.1 1780.4L1171.1 1772.8L1175.3 1768.6L1175.3 1765.8L1179.5 1761.6L1179.6 1761.4L1183.7 1761.4L1186 1763.7L1187.9 1763.7L1187.9 1767.8L1192.1 1772L1192.1 1784.6L1196.3 1788.8L1196.3 1800.1L1200.5 1804.3L1200.5 1819.5L1204.7 1823.7L1204.7 1843.3L1208.9 1847.5L1208.9 1864.8L1213.1 1869L1213.1 1890.8L1217.3 1895L1217.3 1915L1221.5 1919.2L1221.5 1937.4L1225.7 1941.6L1225.7 1961.6L1229.9 1965.8L1229.9 1984.2L1234.1 1988.4L1234.1 2004L1238.3 2008.2L1238.3 2022.4L1242.5 2026.6L1242.5 2034.8L1246.7 2039L1246.7 2045.2L1250.9 2049.4L1250.9 2049.7L1255.1 2053.9L1255.1 2054.1L1259.3 2058.3L1259.3 2057.2L1263.5 2053L1263.5 2050.3L1267.7 2046.1L1267.7 2039.4L1271.9 2035.2L1271.9 2025.6L1276.1 2021.4L1276.1 2005.3L1280.3 2001.1L1280.3 1986.2L1284.5 1982L1284.5 1961.5L1288.7 1957.3L1288.7 1937.1L1292.9 1932.9L1292.9 1912.1L1297.1 1907.9L1297.1 1886.1L1301.3 1881.9L1301.3 1864.7L1305.5 1860.5L1305.5 1842.1L1309.7 1837.9L1309.7 1822L1313.9 1817.8L1313.9 1808.6L1318.1 1804.4L1318.1 1792.7L1322.3 1788.5L1322.3 1784.2L1326.5 1780L1326.5 1779.5L1330.7 1775.3L1333 1773.1L1334.9 1773.1L1336.6 1774.7L1339.1 1774.7L1339.1 1778L1343.3 1782.2L1343.3 1788.8L1347.5 1793L1347.5 1803.9L1351.7 1808.1L1351.7 1818.5L1355.9 1822.7L1355.9 1840.3L1360.1 1844.5L1360.1 1861.1L1364.3 1865.3L1364.3 1884.6L1368.5 1888.8L1368.5 1910.7L1372.7 1914.9L1372.7 1934.7L1376.9 1938.9L1376.9 1959.1L1381.1 1963.3L1381.1 1982.6L1385.3 1986.8L1385.3 2003.7L1389.5 2007.9L1389.5 2019.4L1393.7 2023.6L1393.7 2034.3L1397.9 2038.5L1397.9 2044.3L1402.1 2048.5L1402.1 2050.6L1406.3 2054.8L1409 2057.5L1410.5 2057.5L1413.8 2054.2L1414.7 2054.2L1414.7 2052L1418.9 2047.8L1418.9 2041L1423.1 2036.8L1423.1 2028.4L1427.3 2024.2L1427.3 2009.5L1431.5 2005.3L1431.5 1989.6L1435.7 1985.4L1435.7 1967L1439.9 1962.8L1439.9 1940L1444.1 1935.8L1444.1 1916.1L1448.3 1911.9L1448.3 1893.6L1452.5 1889.4L1452.5 1869.9L1456.7 1865.7L1456.7 1845.2L1460.9 1841L1460.9 1825.4L1465.1 1821.2L1465.1 1809.6L1469.3 1805.4L1469.3 1794.2L1473.5 1790L1473.5 1784.6L1477.7 1780.4L1477.7 1777.5L1481.9 1773.3L1482 1773.5L1486.1 1773.5L1488.5 1775.9L1490.3 1775.9L1490.3 1778.2L1494.5 1782.4L1494.5 1785.2L1498.7 1789.4L1498.7 1801.2L1502.9 1805.4L1502.9 1817.8L1507.1 1822L1507.1 1835.4L1511.3 1839.6L1511.3 1860.1L1515.5 1864.3L1515.5 1883.6L1519.7 1887.8L1519.7 1904.6L1523.9 1908.8L1523.9 1932.6L1528.1 1936.8L1528.1 1954.7L1532.3 1958.9L1532.3 1978.1L1536.5 1982.3L1536.5 2000.9L1540.7 2005.1L1540.7 2018.4L1544.9 2022.6L1544.9 2030.5L1549.1 2034.7L1549.1 2042.6L1553.3 2046.8L1553.3 2049.9L1557.5 2054.1L1559.5 2056.1L1561.7 2056.1L1564 2053.8L1565.9 2053.8L1565.9 2052.5L1570.1 2048.3L1570.1 2044L1574.3 2039.8L1574.3 2027.2L1578.5 2023L1578.5 2012L1582.7 2007.8L1582.7 1991.3L1586.9 1987.1L1586.9 1967.1L1591.1 1962.9L1591.1 1944.2L1595.3 1940L1595.3 1920.3L1599.5 1916.1L1599.5 1895.7L1603.7 1891.5L1603.7 1870.4L1607.9 1866.2L1607.9 1852L1612.1 1847.8L1612.1 1831L1616.3 1826.8L1616.3 1814.2L1620.5 1810L1620.5 1796.3L1624.7 1792.1L1624.7 1786L1628.9 1781.8L1628.9 1778.1L1633.1 1773.9L1633.2 1774L1637.3 1774L1638.1 1773.2L1641.5 1773.2L1641.5 1773.9L1645.7 1778.1L1645.7 1784.5L1649.9 1788.7L1649.9 1799.5L1654.1 1803.7L1654.1 1815.6L1658.3 1819.8L1658.3 1832.5L1662.5 1836.7L1662.5 1853.5L1666.7 1857.7L1666.7 1879.7L1670.9 1883.9L1670.9 1902.2L1675.1 1906.4L1675.1 1927.6L1679.3 1931.8L1679.3 1949.7L1683.5 1953.9L1683.5 1972.8L1687.7 1977L1687.7 1996.6L1691.9 2000.8L1691.9 2014.1L1696.1 2018.3L1696.1 2028L1700.3 2032.2L1700.3 2043.1L1704.5 2047.3L1704.5 2049.5L1708.7 2053.7L1712.7 2057.8L1712.9 2057.8L1716.8 2053.9L1717.1 2053.9L1719.3 2051.7L1721.3 2051.7L1721.3 2043.2L1725.5 2039L1725.5 2033L1729.7 2028.8L1729.7 2014.5L1733.9 2010.3L1733.9 1994.3L1738.1 1990.1L1738.1 1972.9L1742.3 1968.7L1742.3 1950.5L1746.5 1946.3L1746.5 1922.9L1750.7 1918.7L1750.7 1897.9L1754.9 1893.7L1754.9 1875.9L1759.1 1871.7L1759.1 1852.4L1763.3 1848.2L1763.3 1831.3L1767.5 1827.1L1767.5 1813.5L1771.7 1809.3L1771.7 1798.1L1775.9 1793.9L1775.9 1787.3L1780.1 1783.1L1780.1 1780.1L1784.3 1775.9L1787.9 1772.3L1788.5 1772.3L1790.9 1774.7L1792.7 1774.7L1795.6 1777.6L1796.9 1777.6L1796.9 1783L1801.1 1787.2L1801.1 1794.3L1805.3 1798.5L1805.3 1810.9L1809.5 1815.1L1809.5 1828.4L1813.7 1832.6L1813.7 1850.4L1817.9 1854.6L1817.9 1872.3L1822.1 1876.5L1822.1 1899L1826.3 1903.2L1826.3 1923L1830.5 1927.2L1830.5 1946.3L1834.7 1950.5L1834.7 1970.9L1838.9 1975.1L1838.9 1994.3L1843.1 1998.5L1843.1 2010L1847.3 2014.2L1847.3 2028.8L1851.5 2033L1851.5 2039.5L1855.7 2043.7L1855.7 2048.1L1859.9 2052.3L1859.9 2053.5L1864.1 2057.7L1866.2 2055.6L1868.3 2055.6L1872.5 2051.4L1872.5 2051.4L1872.5 2047.5L1876.7 2043.3L1876.7 2035.9L1880.9 2031.7L1880.9 2017L1885.1 2012.8L1885.1 1999.5L1889.3 1995.3L1889.3 1977.2L1893.5 1973L1893.5 1953.2L1897.7 1949L1897.7 1927.5L1901.9 1923.3L1901.9 1902.6L1906.1 1898.4L1906.1 1877.7L1910.3 1873.5L1910.3 1855.4L1914.5 1851.2L1914.5 1834.3L1918.7 1830.1L1918.7 1818.5L1922.9 1814.3L1922.9 1801.1L1927.1 1796.9L1927.1 1788.7L1931.3 1784.5L1931.3 1780.1L1935.5 1775.9L1936.7 1774.7L1939.7 1774.7L1939.8 1774.8L1943.9 1774.8L1947.2 1778.1L1948.1 1778.1L1948.1 1780.5L1952.3 1784.7L1952.3 1792.3L1956.5 1796.5L1956.5 1807.9L1960.7 1812.1L1960.7 1827L1964.9 1831.2L1964.9 1846.6L1969.1 1850.8L1969.1 1870.3L1973.3 1874.5L1973.3 1893.3L1977.5 1897.5L1977.5 1920.7L1981.7 1924.9L1981.7 1945.5L1985.9 1949.7L1985.9 1967.6L1990.1 1971.8L1990.1 1988.3L1994.3 1992.5L1994.3 2010.7L1998.5 2014.9L1998.5 2024.5L2002.7 2028.7L2002.7 2037.5L2006.9 2041.7L2006.9 2045L2011.1 2049.2L2011.1 2051.3L2015.3 2055.5L2016.1 2056.3L2019.5 2056.3L2023.3 2052.4L2023.7 2052.4L2023.7 2047.2L2027.9 2043L2027.9 2036.3L2032.1 2032.1L2032.1 2018.5L2036.3 2014.3L2036.3 2000.5L2040.5 1996.3L2040.5 1978.3L2044.7 1974.1L2044.7 1956.1L2048.9 1951.9L2048.9 1930L2053.1 1925.8L2053.1 1913.7L2055.5 1911.3" class="s" stroke="#0000ff"/>
<path d="M234.5 1911.8L234.5 1992.3L234.5 2042.2L238.7 2046.4L238.7 2048.8L242.9 2053L246.9 2057.1L247.1 2057.1L249.1 2055.1L251.3 2055.1L251.3 2054.1L255.5 2049.9L255.5 2043.5L259.7 2039.3L259.7 2029.7L263.9 2025.5L263.9 2012.9L268.1 2008.7L268.1 1990.7L272.3 1986.5L272.3 1967.8L276.5 1963.6L276.5 1946.3L280.7 1942.1L280.7 1918L284.9 1913.8L284.9 1896.1L289.1 1891.9L289.1 1872.3L293.3 1868.1L293.3 1847.8L297.5 1843.6L297.5 1830.9L301.7 1826.7L301.7 1813.6L305.9 1809.4L305.9 1798.1L310.1 1793.9L310.1 1787.8L314.3 1783.6L314.3 1781.1L318.5 1776.9L318.5 1775.6L322.7 1771.4L325.6 1774.3L326.9 1774.3L326.9 1775.5L331.1 1779.7L331.1 1786.3L335.3 1790.5L335.3 1799.4L339.5 1803.6L339.5 1815.9L343.7 1820.1L343.7 1834.2L347.9 1838.4L347.9 1856.9L352.1 1861.1L352.1 1879.1L356.3 1883.3L356.3 1903.1L360.5 1907.3L360.5 1926.2L364.7 1930.4L364.7 1949.9L368.9 1954.1L368.9 1973.5L373.1 1977.7L373.1 1995.6L377.3 1999.8L377.3 2013.1L381.5 2017.3L381.5 2031.3L385.7 2035.5L385.7 2041.8L389.9 2046L389.9 2049.6L394.1 2053.8L397.4 2057.1L398.3 2057.1L399.2 2056.3L402.5 2056.3L402.5 2054.3L406.7 2050.1L406.7 2042.8L410.9 2038.6L410.9 2032.5L415.1 2028.3L415.1 2015.4L419.3 2011.2L419.3 1994.5L423.5 1990.3L423.5 1972.4L427.7 1968.2L427.7 1948.9L431.9 1944.7L431.9 1921.6L436.1 1917.4L436.1 1899.9L440.3 1895.7L440.3 1874.4L444.5 1870.2L444.5 1851.3L448.7 1847.1L448.7 1831.6L452.9 1827.4L452.9 1815.5L457.1 1811.3L457.1 1798.5L461.3 1794.3L461.3 1789.2L465.5 1785L465.5 1782.6L469.7 1778.4L469.7 1777.2L473.9 1773L474.1 1773.3L478.1 1773.3L478.1 1774.3L482.3 1778.5L482.3 1784L486.5 1788.2L486.5 1796.9L490.7 1801.1L490.7 1812.3L494.9 1816.5L494.9 1831.2L499.1 1835.4L499.1 1850.1L503.3 1854.3L503.3 1873.3L507.5 1877.5L507.5 1897.5L511.7 1901.7L511.7 1924.3L515.9 1928.5L515.9 1947.2L520.1 1951.4L520.1 1971.7L524.3 1975.9L524.3 1991L528.5 1995.2L528.5 2010.2L532.7 2014.4L532.7 2026.8L536.9 2031L536.9 2040.7L541.1 2044.9L541.1 2049L545.3 2053.2L549.2 2057.1L549.5 2057.1L551.4 2055.2L553.7 2055.2L557.5 2051.3L557.9 2051.3L557.9 2046.4L562.1 2042.2L562.1 2033.6L566.3 2029.4L566.3 2015.8L570.5 2011.6L570.5 1999.4L574.7 1995.2L574.7 1974.7L578.9 1970.5L578.9 1954.1L583.1 1949.9L583.1 1929.1L587.3 1924.9L587.3 1900.8L591.5 1896.6L591.5 1878.9L595.7 1874.7L595.7 1857.7L599.9 1853.5L599.9 1837.5L604.1 1833.3L604.1 1817L608.3 1812.8L608.3 1800.9L612.5 1796.7L612.5 1788.7L616.7 1784.5L616.7 1783.4L620.9 1779.2L620.9 1776.4L625.1 1772.2L626.6 1773.7L629.3 1773.7L631.7 1776.1L633.5 1776.1L633.5 1781.7L637.7 1785.9L637.7 1795.4L641.9 1799.6L641.9 1807.6L646.1 1811.8L646.1 1828.8L650.3 1833L650.3 1848.4L654.5 1852.6L654.5 1872.5L658.7 1876.7L658.7 1895.5L662.9 1899.7L662.9 1918.2L667.1 1922.4L667.1 1945.7L671.3 1949.9L671.3 1967.8L675.5 1972L675.5 1987.8L679.7 1992L679.7 2007.1L683.9 2011.3L683.9 2025.5L688.1 2029.7L688.1 2038.1L692.3 2042.3L692.3 2046.4L696.5 2050.6L700.5 2054.6L700.7 2054.6L701.8 2055.7L704.9 2055.7L709 2051.6L709.1 2051.6L709.1 2049.6L713.3 2045.4L713.3 2034L717.5 2029.8L717.5 2021.1L721.7 2016.9L721.7 2002.5L725.9 1998.3L725.9 1978L730.1 1973.8L730.1 1957.8L734.3 1953.6L734.3 1932.2L738.5 1928L738.5 1908.2L742.7 1904L742.7 1881.9L746.9 1877.7L746.9 1859.4L751.1 1855.2L751.1 1838.4L755.3 1834.2L755.3 1822L759.5 1817.8L759.5 1804.4L763.7 1800.2L763.7 1790.9L767.9 1786.7L767.9 1782.4L772.1 1778.2L772.1 1777L776.3 1772.8L777.8 1771.2L780.5 1771.2L784.3 1775L784.7 1775L784.7 1781.3L788.9 1785.5L788.9 1790.6L793.1 1794.8L793.1 1808.1L797.3 1812.3L797.3 1823.4L801.5 1827.6L801.5 1844L805.7 1848.2L805.7 1867.3L809.9 1871.5L809.9 1889.6L814.1 1893.8L814.1 1914.8L818.3 1919L818.3 1942.1L822.5 1946.3L822.5 1965.7L826.7 1969.9L826.7 1987.6L830.9 1991.8L830.9 2006.8L835.1 2011L835.1 2024.8L839.3 2029L839.3 2038.3L843.5 2042.5L843.5 2046.2L847.7 2050.4L847.7 2052.2L851.9 2056.4L853.6 2054.8L856.1 2054.8L856.7 2054.2L860.3 2054.2L860.3 2049.6L864.5 2045.4L864.5 2039.2L868.7 2035L868.7 2023.4L872.9 2019.2L872.9 2003.5L877.1 1999.3L877.1 1981.3L881.3 1977.1L881.3 1961.6L885.5 1957.4L885.5 1933.8L889.7 1929.6L889.7 1910.3L893.9 1906.1L893.9 1885.9L898.1 1881.7L898.1 1862.7L902.3 1858.5L902.3 1843L906.5 1838.8L906.5 1824.7L910.7 1820.5L910.7 1805.4L914.9 1801.2L914.9 1793.9L919.1 1789.7L919.1 1783L923.3 1778.8L923.3 1778.6L927.5 1774.4L929.5 1772.5L931.7 1772.5L933.7 1774.4L935.9 1774.4L935.9 1777.2L940.1 1781.4L940.1 1788.2L944.3 1792.4L944.3 1805.4L948.5 1809.6L948.5 1821.4L952.7 1825.6L952.7 1840.4L956.9 1844.6L956.9 1865.3L961.1 1869.5L961.1 1889.1L965.3 1893.3L965.3 1911.1L969.5 1915.3L969.5 1934.9L973.7 1939.1L973.7 1959.2L977.9 1963.4L977.9 1981.4L982.1 1985.6L982.1 2002.6L986.3 2006.8L986.3 2019L990.5 2023.2L990.5 2033.6L994.7 2037.8L994.7 2043.8L998.9 2048L998.9 2051.1L1003.1 2055.3L1006.1 2058.3L1007.3 2058.3L1010.5 2055.1L1011.5 2055.1L1011.5 2051L1015.7 2046.8L1015.7 2039.9L1019.9 2035.7L1019.9 2025.6L1024.1 2021.4L1024.1 2007L1028.3 2002.8L1028.3 1986L1032.5 1981.8L1032.5 1961.9L1036.7 1957.7L1036.7 1938.4L1040.9 1934.2L1040.9 1916.1L1045.1 1911.9L1045.1 1888.8L1049.3 1884.6L1049.3 1867.1L1053.5 1862.9L1053.5 1845.8L1057.7 1841.6L1057.7 1827.1L1061.9 1822.9L1061.9 1807.6L1066.1 1803.4L1066.1 1794.2L1070.3 1790L1070.3 1784.1L1074.5 1779.9L1074.5 1778.6L1078.7 1774.4L1080.5 1772.6L1082.9 1772.6L1082.9 1772.6L1087.1 1776.8L1087.1 1778.6L1091.3 1782.8L1091.3 1788.9L1095.5 1793.1L1095.5 1799.4L1099.7 1803.6L1099.7 1816.5L1103.9 1820.7L1103.9 1839L1108.1 1843.2L1108.1 1861.6L1112.3 1865.8L1112.3 1883.2L1116.5 1887.4L1116.5 1907.7L1120.7 1911.9L1120.7 1930.4L1124.9 1934.6L1124.9 1956.3L1129.1 1960.5L1129.1 1981.3L1133.3 1985.5L1133.3 2001.5L1137.5 2005.7L1137.5 2019.5L1141.7 2023.7L1141.7 1978.3L1145.9 1974.1L1145.9 2024.7L1150.1 2028.9L1150.1 2048.6L1154.3 2052.8L1156.9 2055.4L1158.5 2055.4L1159 2054.9L1162.7 2054.9L1162.7 2053.4L1166.9 2049.2L1166.9 2044.1L1171.1 2039.9L1171.1 2029L1175.3 2024.8L1175.3 2011.1L1179.5 2006.9L1179.5 1991.1L1183.7 1986.9L1183.7 1967.3L1187.9 1963.1L1187.9 1943.4L1192.1 1939.2L1192.1 1916.3L1196.3 1912.1L1196.3 1895.2L1200.5 1891L1200.5 1869.6L1204.7 1865.4L1204.7 1850.3L1208.9 1846.1L1208.9 1829.2L1213.1 1825L1213.1 1810.5L1217.3 1806.3L1217.3 1795.5L1221.5 1791.3L1221.5 1785.4L1225.7 1781.2L1225.7 1780.2L1229.9 1776L1232.3 1773.6L1234.1 1773.6L1234.9 1772.8L1238.3 1772.8L1238.3 1774.2L1242.5 1778.4L1242.5 1785.6L1246.7 1789.8L1246.7 1799.2L1250.9 1803.4L1250.9 1815L1255.1 1819.2L1255.1 1833.8L1259.3 1838L1259.3 1856.8L1263.5 1861L1263.5 1877.6L1267.7 1881.8L1267.7 1902.7L1271.9 1906.9L1271.9 1928.3L1276.1 1932.5L1276.1 1954.8L1280.3 1959L1280.3 1976.6L1284.5 1980.8L1284.5 1998.7L1288.7 2002.9L1288.7 2015.4L1292.9 2019.6L1292.9 2029.5L1297.1 2033.7L1297.1 2041L1301.3 2045.2L1301.3 2051.2L1305.5 2055.4L1307.6 2057.5L1309.7 2057.5L1312.6 2054.6L1313.9 2054.6L1313.9 2052.1L1318.1 2047.9L1318.1 2044.2L1322.3 2040L1322.3 2031.3L1326.5 2027.1L1326.5 2013.2L1330.7 2009L1330.7 1992.5L1334.9 1988.3L1334.9 1971.8L1339.1 1967.6L1339.1 1948.8L1343.3 1944.6L1343.3 1921.1L1347.5 1916.9L1347.5 1896L1351.7 1891.8L1351.7 1873.6L1355.9 1869.4L1355.9 1851.7L1360.1 1847.5L1360.1 1832.4L1364.3 1828.2L1364.3 1812.6L1368.5 1808.4L1368.5 1800.2L1372.7 1796L1372.7 1788.8L1376.9 1784.6L1376.9 1780.5L1381.1 1776.3L1381.1 1776L1385.3 1771.8L1389.3 1775.7L1389.5 1775.7L1391.9 1778.2L1393.7 1778.2L1393.7 1785L1397.9 1789.2L1397.9 1795.5L1402.1 1799.7L1402.1 1811.5L1406.3 1815.7L1406.3 1832.7L1410.5 1836.9L1410.5 1852.1L1414.7 1856.3L1414.7 1877.6L1418.9 1881.8L1418.9 1899.6L1423.1 1903.8L1423.1 1923.2L1427.3 1927.4L1427.3 1948L1431.5 1952.2L1431.5 1972.2L1435.7 1976.4L1435.7 1994.6L1439.9 1998.8L1439.9 2014.6L1444.1 2018.8L1444.1 2027L1448.3 2031.2L1448.3 2040L1452.5 2044.2L1452.5 2047.3L1456.7 2051.5L1456.7 2054.1L1460.9 2058.3L1464.8 2054.4L1465.1 2054.4L1465.1 2053.3L1469.3 2049.1L1469.3 2044.3L1473.5 2040.1L1473.5 2032.6L1477.7 2028.4L1477.7 2018L1481.9 2013.8L1481.9 1998.4L1486.1 1994.2L1486.1 1975.8L1490.3 1971.6L1490.3 1953L1494.5 1948.8L1494.5 1927.9L1498.7 1923.7L1498.7 1901L1502.9 1896.8L1502.9 1876.7L1507.1 1872.5L1507.1 1857.2L1511.3 1853L1511.3 1835.7L1515.5 1831.5L1515.5 1814.6L1519.7 1810.4L1519.7 1801.8L1523.9 1797.6L1523.9 1788.9L1528.1 1784.7L1528.1 1780.9L1532.3 1776.7L1536.4 1772.5L1536.5 1772.5L1536.9 1772.1L1540.7 1772.1L1544.4 1775.8L1544.9 1775.8L1544.9 1781.2L1549.1 1785.4L1549.1 1793.7L1553.3 1797.9L1553.3 1811.7L1557.5 1815.9L1557.5 1826.9L1561.7 1831.1L1561.7 1851.2L1565.9 1855.4L1565.9 1870.9L1570.1 1875.1L1570.1 1895.3L1574.3 1899.5L1574.3 1921.8L1578.5 1926L1578.5 1946.6L1582.7 1950.8L1582.7 1968.6L1586.9 1972.8L1586.9 1988.9L1591.1 1993.1L1591.1 2009.9L1595.3 2014.1L1595.3 2025.7L1599.5 2029.9L1599.5 2040.5L1603.7 2044.7L1603.7 2046.3L1607.9 2050.5L1607.9 2051.4L1612.1 2055.6L1614.3 2057.8L1616.3 2057.8L1616.3 2054.3L1620.5 2050.1L1620.5 2047.4L1624.7 2043.2L1624.7 2036.5L1628.9 2032.3L1628.9 2020.3L1633.1 2016.1L1633.1 1998.3L1637.3 1994.1L1637.3 1976.6L1641.5 1972.4L1641.5 1953.1L1645.7 1948.9L1645.7 1931.8L1649.9 1927.6L1649.9 1904.5L1654.1 1900.3L1654.1 1882.6L1658.3 1878.4L1658.3 1860.5L1662.5 1856.3L1662.5 1837.2L1666.7 1833L1666.7 1818.2L1670.9 1814L1670.9 1805.2L1675.1 1801L1675.1 1791.5L1679.3 1787.3L1679.3 1781.4L1683.5 1777.2L1686.3 1774.4L1687.7 1774.4L1689.7 1772.4L1691.9 1772.4L1695.5 1776L1696.1 1776L1696.1 1778.5L1700.3 1782.7L1700.3 1793.1L1704.5 1797.3L1704.5 1808.9L1708.7 1813.1L1708.7 1825.9L1712.9 1830.1L1712.9 1847.7L1717.1 1851.9L1717.1 1866.5L1721.3 1870.7L1721.3 1891L1725.5 1895.2L1725.5 1916.4L1729.7 1920.6L1729.7 1943.2L1733.9 1947.4L1733.9 1967.1L1738.1 1971.3L1738.1 1986.9L1742.3 1991.1L1742.3 2006.1L1746.5 2010.3L1746.5 2023.6L1750.7 2027.8L1750.7 2037L1754.9 2041.2L1754.9 2048.1L1759.1 2052.3L1761.3 2054.4L1763.3 2054.4L1766.6 2057.7L1767.5 2057.7L1771.3 2053.9L1771.7 2053.9L1771.7 2050.6L1775.9 2046.4L1775.9 2038.6L1780.1 2034.4L1780.1 2022.5L1784.3 2018.3L1784.3 2002.7L1788.5 1998.5L1788.5 1981.3L1792.7 1977.1L1792.7 1958.2L1796.9 1954L1796.9 1935.3L1801.1 1931.1L1801.1 1907.6L1805.3 1903.4L1805.3 1884.2L1809.5 1880L1809.5 1863.4L1813.7 1859.2L1813.7 1840L1817.9 1835.8L1817.9 1820.2L1822.1 1816L1822.1 1803.8L1826.3 1799.6L1826.3 1792.9L1830.5 1788.7L1830.5 1782.8L1834.7 1778.6L1837.3 1775.9L1838.9 1775.9L1840.4 1774.5L1843.1 1774.5L1846.6 1777.9L1847.3 1777.9L1847.3 1778L1851.5 1782.2L1851.5 1788.3L1855.7 1792.5L1855.7 1803L1859.9 1807.2L1859.9 1822.3L1864.1 1826.5L1864.1 1843.4L1868.3 1847.6L1868.3 1864.5L1872.5 1868.7L1872.5 1887.2L1876.7 1891.4L1876.7 1912.2L1880.9 1916.4L1880.9 1938L1885.1 1942.2L1885.1 1962.3L1889.3 1966.5L1889.3 1985L1893.5 1989.2L1893.5 2005.6L1897.7 2009.8L1897.7 2022.1L1901.9 2026.3L1901.9 2033.7L1906.1 2037.9L1906.1 2046.5L1910.3 2050.7L1913.9 2054.4L1914.5 2054.4L1917.1 2057L1918.7 2057L1922.3 2053.3L1922.9 2053.3L1922.9 2051.8L1927.1 2047.6L1927.1 2038.5L1931.3 2034.3L1931.3 2023.7L1935.5 2019.5L1935.5 2005.5L1939.7 2001.3L1939.7 1984.2L1943.9 1980L1943.9 1964.1L1948.1 1959.9L1948.1 1938.4L1952.3 1934.2L1952.3 1912.4L1956.5 1908.2L1956.5 1888.7L1960.7 1884.5L1960.7 1867.9L1964.9 1863.7L1964.9 1844.3L1969.1 1840.1L1969.1 1823.7L1973.3 1819.5L1973.3 1809.3L1977.5 1805.1L1977.5 1795.1L1981.7 1790.9L1981.7 1786.6L1985.9 1782.4L1985.9 1777.2L1990.1 1773L1990.4 1772.7L1994.3 1772.7L1998.1 1776.5L1998.5 1776.5L1998.5 1778.9L2002.7 1783.1L2002.7 1789.7L2006.9 1793.9L2006.9 1800.2L2011.1 1804.4L2011.1 1818.5L2015.3 1822.7L2015.3 1837.6L2019.5 1841.8L2019.5 1859.9L2023.7 1864.1L2023.7 1886.3L2027.9 1890.5L2027.9 1908.8L2032.1 1913L2032.1 1935.3L2036.3 1939.5L2036.3 1957.3L2040.5 1961.5L2040.5 1982.1L2044.7 1986.3L2044.7 2000.9L2048.9 2005.1L2048.9 2017.9L2053.1 2022.1L2053.1 2030.5L2055.5 2032.9" class="s" stroke="#008000"/>
<path d="M234.5 1911.8L234.5 1851.3L234.5 1845.6L238.7 1841.4L238.7 1832.4L242.9 1828.2L242.9 1846.5L247.1 1850.7L247.1 1869.1L251.3 1873.3L251.3 1891.2L255.5 1895.4L255.5 1916.2L259.7 1920.4L259.7 1940.2L263.9 1944.4L263.9 1964.3L268.1 1968.5L268.1 1986.6L272.3 1990.8L272.3 2007.7L276.5 2011.9L276.5 2024.6L280.7 2028.8L280.7 2036L284.9 2040.2L284.9 2044.5L289.1 2048.7L289.1 2050.9L293.3 2055.1L295.5 2057.2L297.5 2057.2L297.5 2055.8L301.7 2051.6L301.7 2048.5L305.9 2044.3L305.9 2036.2L310.1 2032L310.1 2023L314.3 2018.8L314.3 2003.3L318.5 1999.1L318.5 1980.1L322.7 1975.9L322.7 1956.9L326.9 1952.7L326.9 1933.4L331.1 1929.2L331.1 1909.2L335.3 1905L335.3 1885.7L339.5 1881.5L339.5 1860.5L343.7 1856.3L343.7 1839.5L347.9 1835.3L347.9 1822.5L352.1 1818.3L352.1 1805.1L356.3 1800.9L356.3 1791.7L360.5 1787.5L360.5 1782.6L364.7 1778.4L367.3 1775.8L368.9 1775.8L372.5 1772.2L373.1 1772.2L377.2 1776.3L377.3 1776.3L377.3 1778.5L381.5 1782.7L381.5 1789.8L385.7 1794L385.7 1806.2L389.9 1810.4L389.9 1824.5L394.1 1828.7L394.1 1842.2L398.3 1846.4L398.3 1863.8L402.5 1868L402.5 1889.4L406.7 1893.6L406.7 1911.6L410.9 1915.8L410.9 1935.8L415.1 1940L415.1 1963.4L419.3 1967.6L419.3 1983.9L423.5 1988.1L423.5 2005.6L427.7 2009.8L427.7 2021.2L431.9 2025.4L431.9 2036.9L436.1 2041.1L436.1 2045.1L440.3 2049.3L440.3 2049.7L444.5 2053.9L445.4 2054.7L448.7 2054.7L449.5 2054L452.9 2054L452.9 2051.3L457.1 2047.1L457.1 2041.2L461.3 2037L461.3 2022.9L465.5 2018.7L465.5 2006.8L469.7 2002.6L469.7 1984.8L473.9 1980.6L473.9 1962.3L478.1 1958.1L478.1 1936.4L482.3 1932.2L482.3 1912L486.5 1907.8L486.5 1889L490.7 1884.8L490.7 1867.4L494.9 1863.2L494.9 1842.5L499.1 1838.3L499.1 1824.6L503.3 1820.4L503.3 1809.1L507.5 1804.9L507.5 1796.3L511.7 1792.1L511.7 1783.4L515.9 1779.2L515.9 1777.2L520.1 1773L521.6 1774.6L524.3 1774.6L526.9 1777.2L528.5 1777.2L528.5 1777.6L532.7 1781.8L532.7 1786.4L536.9 1790.6L536.9 1803.9L541.1 1808.1L541.1 1819L545.3 1823.2L545.3 1841L549.5 1845.2L549.5 1861.8L553.7 1866L553.7 1886L557.9 1890.2L557.9 1907.4L562.1 1911.6L562.1 1935L566.3 1939.2L566.3 1957L570.5 1961.2L570.5 1980.4L574.7 1984.6L574.7 2002.7L578.9 2006.9L578.9 2020.4L583.1 2024.6L583.1 2032.1L587.3 2036.3L587.3 2042.8L591.5 2047L591.5 2050L595.7 2054.2L598.3 2056.8L599.9 2056.8L602.7 2054.1L604.1 2054.1L604.1 2050.7L608.3 2046.5L608.3 2040.6L612.5 2036.4L612.5 2028.1L616.7 2023.9L616.7 2011L620.9 2006.8L620.9 1987L625.1 1982.8L625.1 1966.3L629.3 1962.1L629.3 1942.8L633.5 1938.6L633.5 1914.9L637.7 1910.7L637.7 1894L641.9 1889.8L641.9 1867.8L646.1 1863.6L646.1 1847.8L650.3 1843.6L650.3 1827.7L654.5 1823.5L654.5 1810.8L658.7 1806.6L658.7 1795.5L662.9 1791.3L662.9 1785.6L667.1 1781.4L667.1 1779.7L671.3 1775.5L674.3 1772.5L675.5 1772.5L678.2 1775.2L679.7 1775.2L679.7 1776.1L683.9 1780.3L683.9 1786L688.1 1790.2L688.1 1797.9L692.3 1802.1L692.3 1817L696.5 1821.2L696.5 1836L700.7 1840.2L700.7 1856.7L704.9 1860.9L704.9 1882L709.1 1886.2L709.1 1906L713.3 1910.2L713.3 1929.7L717.5 1933.9L717.5 1953L721.7 1957.2L721.7 1977.2L725.9 1981.4L725.9 1996.7L730.1 2000.9L730.1 2015L734.3 2019.2L734.3 2031.1L738.5 2035.3L738.5 2040.9L742.7 2045.1L742.7 2049.4L746.9 2053.6L750 2056.7L751.1 2056.7L754.5 2053.3L755.3 2053.3L758.8 2049.9L759.5 2049.9L759.5 2041.8L763.7 2037.6L763.7 2030.6L767.9 2026.4L767.9 2013.5L772.1 2009.3L772.1 1992.3L776.3 1988.1L776.3 1968L780.5 1963.8L780.5 1945.7L784.7 1941.5L784.7 1920.2L788.9 1916L788.9 1898.2L793.1 1894L793.1 1871.5L797.3 1867.3L797.3 1852.2L801.5 1848L801.5 1832.5L805.7 1828.3L805.7 1813.8L809.9 1809.6L809.9 1799.6L814.1 1795.4L814.1 1786.1L818.3 1781.9L822.3 1777.9L822.5 1777.9L822.5 1777.1L826.7 1772.9L829.7 1775.9L830.9 1775.9L830.9 1776.8L835.1 1781L835.1 1783.1L839.3 1787.3L839.3 1798.5L843.5 1802.7L843.5 1815.4L847.7 1819.6L847.7 1831.1L851.9 1835.3L851.9 1853.6L856.1 1857.8L856.1 1878.2L860.3 1882.4L860.3 1899.7L864.5 1903.9L864.5 1927.5L868.7 1931.7L868.7 1949.6L872.9 1953.8L872.9 1975.1L877.1 1979.3L877.1 1993.7L881.3 1997.9L881.3 2013.8L885.5 2018L885.5 2030.9L889.7 2035.1L889.7 2039.9L893.9 2044.1L893.9 2047.9L898.1 2052.1L898.1 2052.4L902.3 2056.6L903.9 2055L906.5 2055L906.5 2052.9L910.7 2048.7L910.7 2044.1L914.9 2039.9L914.9 2030.8L919.1 2026.6L919.1 2017.1L923.3 2012.9L923.3 1996.3L927.5 1992.1L927.5 1975.1L931.7 1970.9L931.7 1948.3L935.9 1944.1L935.9 1925.8L940.1 1921.6L940.1 1898.7L944.3 1894.5L944.3 1876.7L948.5 1872.5L948.5 1854.7L952.7 1850.5L952.7 1833L956.9 1828.8L956.9 1817L961.1 1812.8L961.1 1800.6L965.3 1796.4L965.3 1789.1L969.5 1784.9L969.5 1782.6L973.7 1778.4L973.7 1775.7L977.9 1771.5L981.9 1775.6L982.1 1775.6L985.3 1778.7L986.3 1778.7L986.3 1782.3L990.5 1786.5L990.5 1796.3L994.7 1800.5L994.7 1810L998.9 1814.2L998.9 1831.6L1003.1 1835.8L1003.1 1851L1007.3 1855.2L1007.3 1872.9L1011.5 1877.1L1011.5 1898.3L1015.7 1902.5L1015.7 1921.7L1019.9 1925.9L1019.9 1945.4L1024.1 1949.6L1024.1 1971.2L1028.3 1975.4L1028.3 1990.1L1032.5 1994.3L1032.5 2012.3L1036.7 2016.5L1036.7 2026L1040.9 2030.2L1040.9 2040L1045.1 2044.2L1045.1 2049.8L1049.3 2054L1051.9 2056.6L1053.5 2056.6L1053.7 2056.8L1057.7 2056.8L1057.7 2055.1L1061.9 2050.9L1061.9 2045.1L1066.1 2040.9L1066.1 2032.6L1070.3 2028.4L1070.3 2016.8L1074.5 2012.6L1074.5 1999.4L1078.7 1995.2L1078.7 1976.9L1082.9 1972.7L1082.9 1953.5L1087.1 1949.3L1087.1 1930.3L1091.3 1926.1L1091.3 1902.6L1095.5 1898.4L1095.5 1879.2L1099.7 1875L1099.7 1858.2L1103.9 1854L1103.9 1834.8L1108.1 1830.6L1108.1 1816.2L1112.3 1812L1112.3 1802L1116.5 1797.8L1116.5 1788.8L1120.7 1784.6L1120.7 1781.4L1124.9 1777.2L1124.9 1776.5L1129.1 1772.3L1130.3 1773.6L1133.3 1773.6L1137.3 1777.6L1137.5 1777.6L1137.5 1779.9L1141.7 1784.1L1141.7 1855.7L1145.9 1859.9L1145.9 1832.6L1150.1 1828.4L1150.9 1829.2L1154.3 1829.2L1154.3 1848.9L1158.5 1853.1L1158.5 1868.7L1162.7 1872.9L1162.7 1892L1166.9 1896.2L1166.9 1916.4L1171.1 1920.6L1171.1 1943.4L1175.3 1947.6L1175.3 1968.1L1179.5 1972.3L1179.5 1989.7L1183.7 1993.9L1183.7 2007.8L1187.9 2012L1187.9 2023.8L1192.1 2028L1192.1 2035.8L1196.3 2040L1196.3 2047.4L1200.5 2051.6L1200.5 2051.9L1204.7 2056.1L1205 2055.8L1208.9 2055.8L1211.5 2053.2L1213.1 2053.2L1213.1 2048.5L1217.3 2044.3L1217.3 2038.5L1221.5 2034.3L1221.5 2022L1225.7 2017.8L1225.7 2001.2L1229.9 1997L1229.9 1982.3L1234.1 1978.1L1234.1 1955.5L1238.3 1951.3L1238.3 1932.8L1242.5 1928.6L1242.5 1907.5L1246.7 1903.3L1246.7 1883L1250.9 1878.8L1250.9 1859.3L1255.1 1855.1L1255.1 1841L1259.3 1836.8L1259.3 1819L1263.5 1814.8L1263.5 1805L1267.7 1800.8L1267.7 1793.8L1271.9 1789.6L1271.9 1781.6L1276.1 1777.4L1276.1 1776.8L1280.3 1772.6L1281.1 1773.4L1284.5 1773.4L1287.4 1776.3L1288.7 1776.3L1288.7 1780.1L1292.9 1784.3L1292.9 1792L1297.1 1796.2L1297.1 1804.2L1301.3 1808.4L1301.3 1822.6L1305.5 1826.8L1305.5 1843L1309.7 1847.2L1309.7 1864.3L1313.9 1868.5L1313.9 1891.2L1318.1 1895.4L1318.1 1915.1L1322.3 1919.3L1322.3 1939.8L1326.5 1944L1326.5 1961L1330.7 1965.2L1330.7 1986.6L1334.9 1990.8L1334.9 2006.2L1339.1 2010.4L1339.1 2022.2L1343.3 2026.4L1343.3 2036.9L1347.5 2041.1L1347.5 2045.4L1351.7 2049.6L1351.7 2050.1L1355.9 2054.3L1356.7 2055.1L1360.1 2055.1L1362.7 2052.4L1364.3 2052.4L1364.3 2048.5L1368.5 2044.3L1368.5 2038.2L1372.7 2034L1372.7 2024.7L1376.9 2020.5L1376.9 2006.1L1381.1 2001.9L1381.1 1985.7L1385.3 1981.5L1385.3 1962L1389.5 1957.8L1389.5 1935.7L1393.7 1931.5L1393.7 1911.9L1397.9 1907.7L1397.9 1887.5L1402.1 1883.3L1402.1 1865.8L1406.3 1861.6L1406.3 1843.2L1410.5 1839L1410.5 1822.8L1414.7 1818.6L1414.7 1807.7L1418.9 1803.5L1418.9 1795.7L1423.1 1791.5L1423.1 1783.1L1427.3 1778.9L1430.3 1775.9L1431.5 1775.9L1431.5 1775.1L1435.7 1770.9L1439.3 1774.5L1439.9 1774.5L1439.9 1777L1444.1 1781.2L1444.1 1789.7L1448.3 1793.9L1448.3 1804.8L1452.5 1809L1452.5 1821.3L1456.7 1825.5L1456.7 1839.7L1460.9 1843.9L1460.9 1863.9L1465.1 1868.1L1465.1 1885.1L1469.3 1889.3L1469.3 1908.9L1473.5 1913.1L1473.5 1936.6L1477.7 1940.8L1477.7 1959.7L1481.9 1963.9L1481.9 1982.6L1486.1 1986.8L1486.1 2002.9L1490.3 2007.1L1490.3 2021.7L1494.5 2025.9L1494.5 2033.9L1498.7 2038.1L1498.7 2045.7L1502.9 2049.9L1502.9 2051.4L1507.1 2055.6L1509.7 2058.2L1511.3 2058.2L1515.4 2054.1L1515.5 2054.1L1515.5 2052.7L1519.7 2048.5L1519.7 2041.2L1523.9 2037L1523.9 2025.6L1528.1 2021.4L1528.1 2007.3L1532.3 2003.1L1532.3 1988.3L1536.5 1984.1L1536.5 1963.2L1540.7 1959L1540.7 1942.2L1544.9 1938L1544.9 1914.1L1549.1 1909.9L1549.1 1889.6L1553.3 1885.4L1553.3 1866.7L1557.5 1862.5L1557.5 1848.1L1561.7 1843.9L1561.7 1826L1565.9 1821.8L1565.9 1808.2L1570.1 1804L1570.1 1793.8L1574.3 1789.6L1574.3 1783.7L1578.5 1779.5L1582.2 1775.8L1582.7 1775.8L1585.1 1773.3L1586.9 1773.3L1589.2 1775.6L1591.1 1775.6L1591.1 1777.7L1595.3 1781.9L1595.3 1785.1L1599.5 1789.3L1599.5 1800.9L1603.7 1805.1L1603.7 1816.9L1607.9 1821.1L1607.9 1838.3L1612.1 1842.5L1612.1 1860.1L1616.3 1864.3L1616.3 1883.6L1620.5 1887.8L1620.5 1904.3L1624.7 1908.5L1624.7 1932.5L1628.9 1936.7L1628.9 1957.1L1633.1 1961.3L1633.1 1980.2L1637.3 1984.4L1637.3 1997.6L1641.5 2001.8L1641.5 2016.1L1645.7 2020.3L1645.7 2030.4L1649.9 2034.6L1649.9 2041.1L1654.1 2045.3L1654.1 2051.3L1658.3 2055.5L1660.8 2058L1662.5 2058L1665 2055.5L1666.7 2055.5L1666.7 2054.4L1670.9 2050.2L1670.9 2043.5L1675.1 2039.3L1675.1 2028.1L1679.3 2023.9L1679.3 2009.9L1683.5 2005.7L1683.5 1989.6L1687.7 1985.4L1687.7 1969.7L1691.9 1965.5L1691.9 1943.3L1696.1 1939.1L1696.1 1918.8L1700.3 1914.6L1700.3 1895L1704.5 1890.8L1704.5 1869.9L1708.7 1865.7L1708.7 1848.8L1712.9 1844.6L1712.9 1828.7L1717.1 1824.5L1717.1 1813L1721.3 1808.8L1721.3 1797.2L1725.5 1793L1725.5 1786.1L1729.7 1781.9L1729.7 1781.8L1733.9 1777.6L1733.9 1777.1L1738.1 1772.9L1740.8 1775.6L1742.3 1775.6L1742.3 1776L1746.5 1780.2L1746.5 1783.1L1750.7 1787.3L1750.7 1797.7L1754.9 1801.9L1754.9 1814.3L1759.1 1818.5L1759.1 1834.9L1763.3 1839.1L1763.3 1854.6L1767.5 1858.8L1767.5 1879.1L1771.7 1883.3L1771.7 1902.4L1775.9 1906.6L1775.9 1926L1780.1 1930.2L1780.1 1953.1L1784.3 1957.3L1784.3 1973.2L1788.5 1977.4L1788.5 1997.3L1792.7 2001.5L1792.7 2013.3L1796.9 2017.5L1796.9 2027.9L1801.1 2032.1L1801.1 2040.3L1805.3 2044.5L1805.3 2050.1L1809.5 2054.3L1813.7 2058.5L1813.7 2058.5L1813.7 2057.8L1817.9 2053.6L1821.3 2050.1L1822.1 2050.1L1822.1 2044.8L1826.3 2040.6L1826.3 2032.6L1830.5 2028.4L1830.5 2013.2L1834.7 2009L1834.7 1994.6L1838.9 1990.4L1838.9 1971.8L1843.1 1967.6L1843.1 1949.8L1847.3 1945.6L1847.3 1922.6L1851.5 1918.4L1851.5 1900.9L1855.7 1896.7L1855.7 1874.6L1859.9 1870.4L1859.9 1852L1864.1 1847.8L1864.1 1833.4L1868.3 1829.2L1868.3 1814.7L1872.5 1810.5L1872.5 1798.2L1876.7 1794L1876.7 1788.9L1880.9 1784.7L1880.9 1779.1L1885.1 1774.9L1885.8 1774.2L1889.3 1774.2L1889.6 1774.5L1893.5 1774.5L1893.5 1775.5L1897.7 1779.7L1897.7 1783.7L1901.9 1787.9L1901.9 1795.2L1906.1 1799.4L1906.1 1811.3L1910.3 1815.5L1910.3 1830.1L1914.5 1834.3L1914.5 1853.3L1918.7 1857.5L1918.7 1872.9L1922.9 1877.1L1922.9 1899.9L1927.1 1904.1L1927.1 1921.3L1931.3 1925.5L1931.3 1946.7L1935.5 1950.9L1935.5 1970.4L1939.7 1974.6L1939.7 1994.5L1943.9 1998.7L1943.9 2011.9L1948.1 2016.1L1948.1 2027.2L1952.3 2031.4L1952.3 2041.5L1956.5 2045.7L1956.5 2047.1L1960.7 2051.3L1960.7 2052L1964.9 2056.2L1965 2056.1L1969.1 2056.1L1972.9 2052.3L1973.3 2052.3L1973.3 2047.6L1977.5 2043.4L1977.5 2034.4L1981.7 2030.2L1981.7 2016.8L1985.9 2012.6L1985.9 1997.3L1990.1 1993.1L1990.1 1974.7L1994.3 1970.5L1994.3 1953.7L1998.5 1949.5L1998.5 1928.2L2002.7 1924L2002.7 1903.9L2006.9 1899.7L2006.9 1877.9L2011.1 1873.7L2011.1 1856.3L2015.3 1852.1L2015.3 1836.8L2019.5 1832.6L2019.5 1817.7L2023.7 1813.5L2023.7 1800.4L2027.9 1796.2L2027.9 1789.7L2032.1 1785.5L2032.1 1783.2L2036.3 1779L2036.3 1776.5L2040.5 1772.3L2040.7 1772.1L2044.7 1772.1L2044.7 1772.5L2048.9 1776.7L2048.9 1782.3L2053.1 1786.5L2053.1 1791.1L2055.5 1793.5" class="s" stroke="#ff0000"/>
<rect x="1599" y="1798" width="362" height="212" fill="#fff"/>
<path d="M1609.5 1789H1716.5" stroke="#008000" stroke-width="8.6" stroke-linecap="round" fill="none"/>
<path d="M1634.5 1842.3H1732.5" class="l" stroke="#ff0000"/>
<path d="M1634.5 1898.6H1735.5" class="l" stroke="#0000ff"/>
<path d="M1634.5 1961.6H1735.5" class="l" stroke="#008000"/>
<text x="1750" y="1867.4" font-size="51" text-anchor="start">Phase A</text>
<text x="1754" y="1924" font-size="51" text-anchor="start">Phase B</text>
<text x="1754" y="1979.4" font-size="51" text-anchor="start">Phase C</text>
<text x="188.74" y="1664.00" font-size="49.2">2</text>
<text x="190.38" y="1797.30" font-size="49.2">1</text>
<text x="190.03" y="1931.50" font-size="49.2">0</text>
<text font-size="49.2"><tspan x="136.40" y="2067.10" textLength="38.0" lengthAdjust="spacingAndGlyphs">−</tspan><tspan x="190.38" y="2069.00">1</tspan></text>
<text font-size="49.2"><tspan x="134.60" y="2206.30" textLength="38.0" lengthAdjust="spacingAndGlyphs">−</tspan><tspan x="185.84" y="2207.50">2</tspan></text>
<text x="237.03" y="2249.30" font-size="49.2">0</text>
<text x="371.73" y="2249.30" font-size="49.2" letter-spacing="2.03">0.02</text>
<text x="553.78" y="2249.30" font-size="49.2" letter-spacing="1.38">0.04</text>
<text x="735.83" y="2249.30" font-size="49.2" letter-spacing="1.61">0.06</text>
<text x="917.88" y="2249.30" font-size="49.2" letter-spacing="1.75">0.08</text>
<text x="1108.23" y="2249.30" font-size="49.2" letter-spacing="1.60">0.1</text>
<text x="1281.98" y="2249.30" font-size="49.2" letter-spacing="2.03">0.12</text>
<text x="1464.03" y="2249.30" font-size="49.2" letter-spacing="1.38">0.14</text>
<text x="1646.08" y="2249.30" font-size="49.2" letter-spacing="1.61">0.16</text>
<text x="1828.13" y="2249.30" font-size="49.2" letter-spacing="1.75">0.18</text>
<text x="2023.63" y="2249.30" font-size="49.2" letter-spacing="1.19">0.2</text>
<text x="1063.49" y="2296.30" font-size="52" letter-spacing="0.07">time (s)</text>
<text x="1101.03" y="2370.00" font-size="63" letter-spacing="1.31">(c)</text>
<text transform="translate(105.60 2076.50) rotate(-90)" font-size="71.5" letter-spacing="0.03">Voltage (pu)</text>
</g>
</svg>
</body></html>
